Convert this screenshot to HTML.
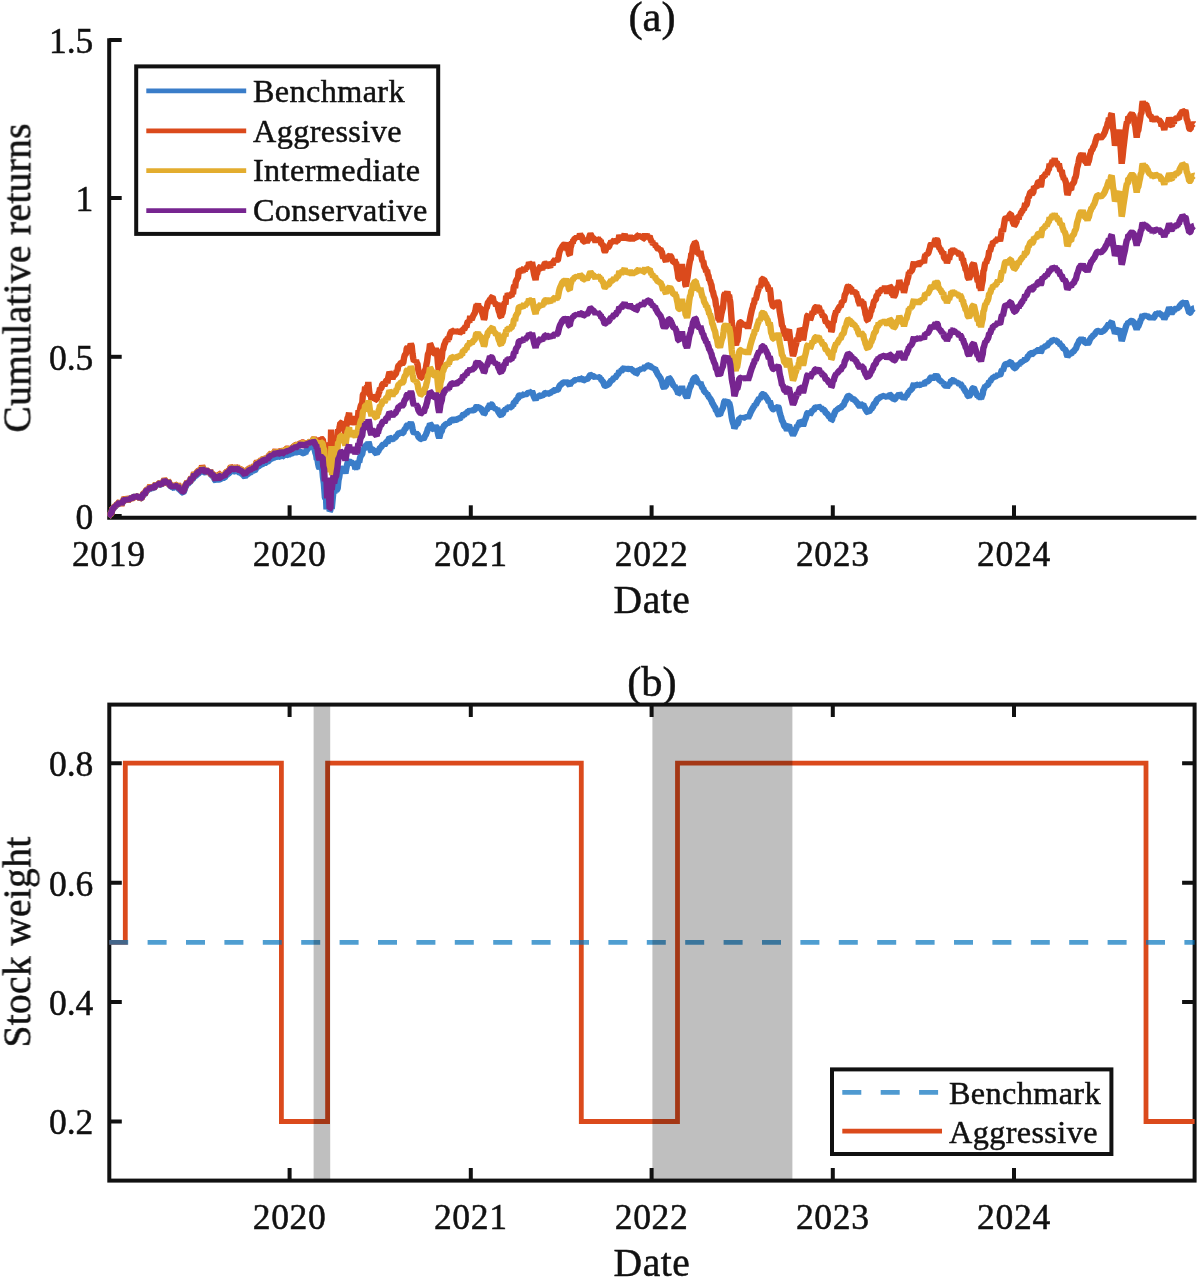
<!DOCTYPE html>
<html><head><meta charset="utf-8"><title>Figure</title>
<style>html,body{margin:0;padding:0;background:#fff}body{width:1200px;height:1280px;overflow:hidden;font-family:"Liberation Serif",serif}svg{display:block}text{filter:url(#gs);stroke:#111;stroke-width:.5px}</style>
</head><body>
<svg width="1200" height="1280" viewBox="0 0 1200 1280">
<defs><filter id="gs" x="-5%" y="-20%" width="110%" height="140%" color-interpolation-filters="sRGB"><feColorMatrix type="saturate" values="0"/></filter></defs>
<rect width="1200" height="1280" fill="#fff"/>
<g font-family="'Liberation Serif', serif" fill="#111">
<g stroke="#111" stroke-width="4.00" fill="none" stroke-linecap="butt">
<path d="M109.20 38.20 V517.80 H1196.40"/>
<path d="M109.20 40.00 h12.5"/>
<path d="M109.20 198.00 h12.5"/>
<path d="M109.20 356.80 h12.5"/>
<path d="M109.20 516.00 h12.5"/>
<path d="M289.60 517.80 v-12.5"/>
<path d="M470.80 517.80 v-12.5"/>
<path d="M651.60 517.80 v-12.5"/>
<path d="M832.80 517.80 v-12.5"/>
<path d="M1014.00 517.80 v-12.5"/>
</g>
<clipPath id="cp"><rect x="107.5" y="20" width="1088.5" height="500"/></clipPath>
<g fill="none" stroke-width="6.40" stroke-linejoin="bevel" stroke-linecap="butt" clip-path="url(#cp)">
<path d="M108.3 516.7 L109.0 515.8 L109.7 513.9 L110.3 514.2 L111.0 513.3 L111.7 512.2 L112.3 509.4 L113.0 508.9 L113.7 508.2 L114.3 507.0 L115.0 507.0 L115.7 505.6 L116.4 505.9 L117.1 504.4 L117.9 504.4 L118.6 503.7 L119.3 503.2 L120.0 503.5 L120.7 503.0 L121.4 504.3 L122.1 502.9 L122.9 502.0 L123.6 500.9 L124.3 499.7 L125.0 501.3 L125.7 498.9 L126.4 499.4 L127.1 500.0 L127.9 500.7 L128.6 499.3 L129.3 499.7 L130.0 498.5 L130.7 498.3 L131.4 498.6 L132.1 497.8 L132.9 497.5 L133.6 496.9 L134.3 496.9 L135.0 495.1 L135.7 496.3 L136.5 496.5 L137.2 496.7 L137.9 496.9 L138.6 497.2 L139.4 497.5 L140.1 498.6 L140.8 498.2 L141.6 497.8 L142.3 496.5 L143.0 495.0 L143.8 494.2 L144.5 494.3 L145.2 493.3 L145.9 491.6 L146.7 490.9 L147.4 490.8 L148.1 489.4 L148.8 490.4 L149.5 489.0 L150.2 487.6 L151.0 488.2 L151.7 488.1 L152.4 488.3 L153.1 487.8 L153.8 488.1 L154.5 487.3 L155.2 486.2 L156.0 485.1 L156.7 485.8 L157.4 484.5 L158.2 485.1 L159.0 484.4 L159.7 484.1 L160.5 484.6 L161.3 484.8 L162.1 483.6 L162.8 483.5 L163.6 482.4 L164.4 481.5 L165.1 481.7 L165.9 482.3 L166.7 482.8 L167.3 483.2 L168.0 482.3 L168.7 483.2 L169.3 484.2 L170.0 485.8 L170.7 486.2 L171.3 486.3 L172.0 486.9 L172.7 488.2 L173.3 487.7 L174.2 488.4 L175.0 486.9 L175.8 487.0 L176.7 487.0 L177.3 487.4 L178.0 487.0 L178.7 488.6 L179.3 489.7 L180.0 489.7 L180.7 490.9 L181.3 491.1 L182.0 491.9 L182.7 492.6 L183.3 492.8 L184.2 490.8 L185.0 488.1 L185.8 486.5 L186.7 484.4 L187.3 483.6 L188.0 483.7 L188.7 483.1 L189.3 482.5 L190.0 482.4 L190.7 480.4 L191.3 479.4 L192.0 479.4 L192.7 479.1 L193.3 478.0 L194.1 475.9 L194.8 476.3 L195.6 475.9 L196.3 475.3 L197.0 474.6 L197.8 473.9 L198.5 473.5 L199.3 472.6 L200.0 473.0 L200.7 471.6 L201.4 471.8 L202.1 470.3 L202.9 471.2 L203.6 471.6 L204.3 472.3 L205.0 472.4 L205.7 472.1 L206.4 471.7 L207.1 472.0 L207.9 473.1 L208.6 472.5 L209.3 472.7 L210.0 471.3 L210.7 473.9 L211.4 475.0 L212.1 475.7 L212.9 476.2 L213.6 477.1 L214.3 478.5 L215.0 480.1 L215.8 480.9 L216.5 479.7 L217.3 480.4 L218.0 479.7 L218.8 477.9 L219.5 478.0 L220.3 479.2 L221.1 479.3 L221.8 477.8 L222.6 478.6 L223.3 477.7 L224.0 477.7 L224.7 477.7 L225.4 476.5 L226.1 475.3 L226.8 475.2 L227.5 474.1 L228.2 474.2 L228.9 473.2 L229.6 472.9 L230.3 471.6 L231.0 471.0 L231.7 470.8 L232.4 471.3 L233.1 470.9 L233.9 470.6 L234.6 471.5 L235.4 471.9 L236.1 471.0 L236.9 470.5 L237.6 471.2 L238.3 471.1 L239.1 472.1 L239.8 473.5 L240.6 473.0 L241.3 473.4 L242.0 473.9 L242.8 474.6 L243.5 475.2 L244.3 476.3 L245.0 476.9 L245.7 475.6 L246.4 475.8 L247.1 474.2 L247.8 474.2 L248.5 473.3 L249.2 473.1 L249.9 472.4 L250.6 472.4 L251.2 472.1 L251.9 470.9 L252.6 471.4 L253.3 470.8 L254.0 470.0 L254.8 470.4 L255.5 469.8 L256.2 467.8 L256.9 467.2 L257.6 467.1 L258.3 467.3 L259.0 465.7 L259.8 465.5 L260.5 465.0 L261.2 464.9 L261.9 465.2 L262.6 463.6 L263.3 462.9 L264.0 462.9 L264.8 463.5 L265.5 462.9 L266.2 461.3 L266.9 461.9 L267.6 462.2 L268.3 461.2 L269.0 460.1 L269.8 459.8 L270.5 459.2 L271.2 458.8 L271.9 459.3 L272.6 458.1 L273.3 458.9 L274.1 457.5 L274.8 457.1 L275.6 456.1 L276.4 456.9 L277.1 456.7 L277.9 456.0 L278.6 456.3 L279.4 456.6 L280.2 456.8 L280.9 455.8 L281.7 454.3 L282.4 456.5 L283.1 456.3 L283.8 456.3 L284.4 453.8 L285.1 456.4 L285.8 455.3 L286.5 454.9 L287.2 454.9 L287.9 455.0 L288.6 454.3 L289.3 454.5 L290.0 454.2 L290.8 454.5 L291.5 453.3 L292.2 453.2 L293.0 453.2 L293.8 451.9 L294.5 452.3 L295.2 452.0 L296.0 452.4 L296.7 452.3 L297.4 451.8 L298.1 453.0 L298.8 451.7 L299.5 451.9 L300.2 451.7 L300.9 451.5 L301.6 452.3 L302.3 452.8 L303.0 453.2 L303.8 453.4 L304.5 452.6 L305.3 453.5 L306.0 451.3 L306.8 450.2 L307.5 448.8 L308.3 448.8 L309.0 447.2 L309.8 446.7 L310.5 446.8 L311.3 445.0 L312.0 445.9 L312.7 445.3 L313.4 444.7 L314.1 447.0 L314.8 450.2 L315.5 453.2 L316.2 455.0 L316.8 459.6 L317.5 459.5 L318.2 464.2 L318.9 467.2 L319.5 468.1 L320.2 465.9 L320.9 468.4 L321.6 468.5 L322.3 469.5 L322.9 476.5 L323.9 483.9 L324.9 497.5 L325.4 498.4 L326.0 496.6 L326.5 509.3 L327.3 501.5 L328.2 501.1 L328.9 502.2 L329.7 511.3 L330.4 510.1 L331.0 494.5 L331.7 508.8 L332.6 500.0 L333.6 489.1 L334.3 493.1 L335.0 489.1 L335.6 489.5 L336.3 490.7 L337.0 489.6 L337.7 488.4 L338.5 480.3 L339.3 476.7 L340.1 471.0 L340.7 468.7 L341.3 468.3 L341.9 468.6 L342.5 469.5 L343.2 469.0 L344.0 468.8 L344.7 471.0 L345.4 473.4 L346.1 469.6 L346.9 465.6 L347.6 462.8 L348.3 461.2 L349.1 459.4 L349.9 464.6 L350.7 463.4 L351.4 462.2 L352.2 462.8 L352.8 463.5 L353.5 462.2 L354.1 464.6 L354.8 465.7 L355.4 469.2 L356.1 467.4 L356.9 468.7 L357.6 465.2 L358.4 460.9 L359.2 462.3 L360.0 458.0 L360.7 456.2 L361.4 455.1 L362.2 454.2 L362.9 450.0 L363.7 449.3 L364.4 449.2 L365.2 445.4 L365.9 445.6 L366.7 444.4 L367.3 445.0 L367.9 444.6 L368.5 441.9 L369.2 444.1 L370.0 448.3 L370.8 450.4 L371.5 452.0 L372.1 449.3 L372.7 449.4 L373.3 450.0 L374.2 449.3 L375.0 452.4 L375.8 453.1 L376.7 454.0 L377.3 451.9 L378.0 452.3 L378.7 450.1 L379.3 449.6 L380.0 447.5 L380.7 447.4 L381.5 446.9 L382.2 445.2 L383.0 444.7 L383.7 444.0 L384.4 445.1 L385.2 444.0 L385.9 442.5 L386.7 441.9 L387.4 443.2 L388.1 440.6 L388.8 439.0 L389.5 437.6 L390.2 438.0 L391.0 440.2 L391.7 439.3 L392.4 440.0 L393.1 438.9 L393.8 436.9 L394.5 437.8 L395.2 437.4 L396.0 436.8 L396.7 435.1 L397.4 435.6 L398.1 433.7 L398.9 433.1 L399.6 433.3 L400.4 432.7 L401.1 432.6 L401.9 432.6 L402.6 433.1 L403.3 433.0 L404.0 430.6 L404.7 429.2 L405.4 428.7 L406.1 428.1 L406.7 425.6 L407.4 425.1 L408.1 425.5 L408.8 425.4 L409.5 424.5 L410.2 423.7 L410.8 422.7 L411.7 424.4 L412.5 428.7 L413.3 431.9 L414.0 433.1 L414.7 432.5 L415.3 433.6 L416.0 432.6 L416.7 433.8 L417.5 434.0 L418.3 436.6 L419.2 437.7 L420.0 438.4 L420.8 439.0 L421.5 439.0 L422.2 437.8 L422.9 438.3 L423.6 438.7 L424.3 437.8 L425.0 435.7 L425.7 435.4 L426.4 433.2 L427.1 431.7 L427.9 428.5 L428.6 427.9 L429.3 426.7 L430.0 423.7 L430.7 424.4 L431.3 425.6 L432.0 426.5 L432.7 429.0 L433.3 429.2 L434.2 427.9 L435.0 427.5 L435.8 426.4 L436.7 427.4 L437.3 429.7 L437.9 433.4 L438.5 436.0 L439.2 437.9 L439.8 436.1 L440.5 432.8 L441.2 431.9 L441.8 431.1 L442.5 427.5 L443.3 427.3 L444.2 425.4 L445.0 425.1 L445.8 424.2 L446.7 423.9 L447.4 424.9 L448.1 422.6 L448.8 423.8 L449.5 422.1 L450.2 421.0 L451.0 420.5 L451.7 419.6 L452.4 419.6 L453.1 420.2 L453.8 420.3 L454.5 419.8 L455.2 419.4 L456.0 419.7 L456.7 419.7 L457.3 419.4 L458.0 418.3 L458.7 418.4 L459.3 418.3 L460.0 418.3 L460.7 417.7 L461.3 416.7 L462.0 417.4 L462.7 415.0 L463.3 414.5 L464.1 414.9 L464.8 414.2 L465.6 413.2 L466.4 414.0 L467.1 412.2 L467.9 411.4 L468.6 411.4 L469.4 411.8 L470.2 409.0 L470.9 410.4 L471.7 410.9 L472.4 410.4 L473.2 410.2 L474.0 410.1 L474.7 409.8 L475.3 408.9 L476.0 407.1 L476.7 406.0 L477.3 406.8 L478.0 405.8 L478.7 407.7 L479.3 407.7 L480.0 408.0 L480.8 408.1 L481.6 409.9 L482.4 410.9 L483.2 412.3 L484.0 413.9 L484.7 413.4 L485.3 411.1 L486.0 409.7 L486.7 409.9 L487.3 409.0 L488.0 407.9 L488.7 406.8 L489.3 405.7 L490.0 403.9 L490.7 404.6 L491.4 404.4 L492.1 404.8 L492.9 406.6 L493.6 408.9 L494.3 408.3 L495.0 408.0 L495.8 409.6 L496.5 409.3 L497.2 408.4 L498.0 411.2 L498.8 412.6 L499.5 413.4 L500.2 415.0 L501.0 415.4 L501.8 414.2 L502.5 414.2 L503.2 412.6 L504.0 410.6 L504.8 410.3 L505.5 411.4 L506.2 407.6 L507.0 409.0 L507.8 406.7 L508.5 407.3 L509.2 406.7 L510.0 407.5 L510.8 407.3 L511.5 407.3 L512.2 405.2 L513.0 406.0 L513.7 403.0 L514.4 402.1 L515.1 403.3 L515.8 400.3 L516.5 399.8 L517.2 399.0 L517.9 399.0 L518.6 395.9 L519.3 395.4 L520.0 395.4 L520.7 395.7 L521.3 394.8 L522.0 395.7 L522.7 396.1 L523.3 394.5 L524.0 394.2 L524.7 395.6 L525.3 394.0 L526.0 394.2 L526.8 393.9 L527.5 393.4 L528.2 393.6 L529.0 391.3 L529.8 392.0 L530.5 392.0 L531.2 393.2 L532.0 391.2 L532.7 393.0 L533.4 395.3 L534.2 397.4 L534.9 398.6 L535.6 400.0 L536.3 397.7 L537.1 397.6 L537.8 396.1 L538.5 396.5 L539.3 395.9 L540.0 395.5 L540.7 395.1 L541.5 396.0 L542.2 396.4 L542.9 394.8 L543.6 395.6 L544.4 393.6 L545.1 393.0 L545.8 393.1 L546.5 392.3 L547.3 393.3 L548.0 393.5 L548.8 393.0 L549.5 393.7 L550.2 394.0 L551.0 391.6 L551.8 391.7 L552.5 392.6 L553.2 391.2 L554.0 390.2 L554.6 390.0 L555.2 389.6 L555.8 390.1 L556.4 390.9 L557.0 390.0 L557.7 390.3 L558.4 388.6 L559.1 386.8 L559.9 385.4 L560.6 384.8 L561.3 384.3 L562.0 383.5 L562.8 383.0 L563.6 382.5 L564.4 382.1 L565.2 382.6 L566.0 381.4 L566.8 382.3 L567.5 384.0 L568.2 382.9 L569.0 384.6 L569.8 385.6 L570.5 383.2 L571.2 382.8 L572.0 381.8 L572.7 382.5 L573.3 380.9 L574.0 380.9 L574.7 380.2 L575.3 380.1 L576.0 380.0 L576.7 380.5 L577.3 378.9 L578.0 380.5 L578.7 379.4 L579.3 379.2 L580.0 378.0 L580.8 378.6 L581.6 378.5 L582.4 379.3 L583.2 380.5 L584.0 380.2 L584.7 379.8 L585.5 379.1 L586.2 379.3 L586.9 379.6 L587.6 378.7 L588.4 377.8 L589.1 376.9 L589.8 375.5 L590.5 374.8 L591.3 375.0 L592.0 376.3 L592.7 376.0 L593.5 376.2 L594.2 376.8 L594.9 377.2 L595.6 378.3 L596.4 376.5 L597.1 377.6 L597.8 376.3 L598.5 377.2 L599.3 377.2 L600.0 378.2 L600.7 378.0 L601.4 380.5 L602.1 380.7 L602.8 381.6 L603.5 382.4 L604.2 385.0 L604.9 385.8 L605.6 385.8 L606.3 385.3 L607.0 385.0 L607.7 384.7 L608.4 384.4 L609.1 383.8 L609.9 382.3 L610.6 381.4 L611.3 380.1 L612.0 380.2 L612.7 379.6 L613.5 378.4 L614.2 377.5 L614.9 378.1 L615.6 377.1 L616.4 376.2 L617.1 374.4 L617.8 374.5 L618.5 373.7 L619.3 370.8 L620.0 371.3 L620.7 370.9 L621.3 371.4 L622.0 370.4 L622.7 369.0 L623.3 368.6 L624.0 368.1 L624.7 366.9 L625.5 369.4 L626.2 368.7 L626.9 369.5 L627.6 369.1 L628.4 368.9 L629.1 369.0 L629.8 367.4 L630.5 369.0 L631.3 369.1 L632.0 369.9 L632.8 370.1 L633.6 371.0 L634.4 372.1 L635.2 371.8 L636.0 374.0 L636.7 373.6 L637.3 371.4 L638.0 370.8 L638.7 369.7 L639.3 369.9 L640.0 370.0 L640.8 368.6 L641.5 369.1 L642.2 367.7 L643.0 369.0 L643.8 368.6 L644.5 367.4 L645.2 365.7 L646.0 367.1 L646.8 366.4 L647.5 365.8 L648.2 365.5 L649.0 365.3 L649.7 364.9 L650.3 366.3 L651.0 366.8 L651.7 367.7 L652.3 367.0 L653.0 368.9 L653.7 368.5 L654.3 368.5 L655.0 368.2 L655.8 370.8 L656.6 371.7 L657.3 373.5 L658.1 374.9 L658.9 375.8 L659.7 377.1 L660.4 378.0 L661.2 380.1 L662.0 381.7 L662.7 385.0 L663.3 387.0 L664.0 387.8 L664.7 386.7 L665.4 386.4 L666.1 385.4 L666.9 383.0 L667.6 381.8 L668.3 379.2 L669.0 377.9 L669.7 378.3 L670.4 379.5 L671.1 380.5 L671.8 382.1 L672.5 383.7 L673.2 385.2 L673.9 386.0 L674.6 385.6 L675.3 387.7 L676.0 388.3 L676.8 390.1 L677.5 391.4 L678.2 393.7 L679.0 393.3 L679.8 391.0 L680.5 390.8 L681.2 389.8 L682.0 386.2 L682.7 390.0 L683.4 390.8 L684.1 391.7 L684.9 391.9 L685.6 395.8 L686.3 396.5 L687.0 398.0 L687.8 395.6 L688.5 392.5 L689.2 389.6 L690.0 387.2 L690.7 386.3 L691.4 383.2 L692.1 383.4 L692.9 380.0 L693.6 378.9 L694.3 378.1 L695.0 377.2 L695.7 377.4 L696.3 378.8 L697.0 380.4 L697.7 381.8 L698.3 382.8 L699.0 382.8 L699.7 384.0 L700.4 382.3 L701.1 384.6 L701.9 386.6 L702.6 388.2 L703.3 388.3 L704.0 390.8 L704.8 391.8 L705.5 392.0 L706.2 394.0 L707.0 393.1 L707.8 395.3 L708.5 395.9 L709.2 398.0 L710.0 398.0 L710.8 399.8 L711.5 400.6 L712.2 403.2 L713.0 403.9 L713.8 405.8 L714.5 406.7 L715.2 407.6 L716.0 410.6 L716.7 410.9 L717.3 412.1 L718.0 414.4 L718.7 415.0 L719.3 414.2 L720.0 414.9 L720.7 412.8 L721.4 410.8 L722.1 409.3 L722.9 407.9 L723.6 404.6 L724.3 401.3 L725.0 400.8 L725.8 402.2 L726.6 401.3 L727.4 400.4 L728.2 403.0 L729.0 402.3 L729.7 404.9 L730.3 407.2 L731.0 412.2 L731.7 417.4 L732.3 420.3 L733.0 422.8 L733.7 424.7 L734.4 428.5 L735.1 427.0 L735.8 425.3 L736.5 424.3 L737.2 424.7 L737.9 423.2 L738.6 421.4 L739.3 418.1 L740.0 418.1 L740.7 417.8 L741.4 417.6 L742.1 418.5 L742.9 417.1 L743.6 418.0 L744.3 417.6 L745.0 417.8 L745.8 416.2 L746.5 416.9 L747.2 416.2 L748.0 418.3 L748.8 416.4 L749.6 415.0 L750.4 412.9 L751.2 411.3 L752.0 409.7 L752.7 408.7 L753.4 407.0 L754.1 406.8 L754.9 404.1 L755.6 404.8 L756.3 403.7 L757.0 402.0 L757.7 400.8 L758.4 399.8 L759.1 398.0 L759.8 398.7 L760.5 397.6 L761.2 397.0 L761.9 394.3 L762.6 394.1 L763.3 394.3 L764.0 394.1 L764.7 395.2 L765.4 396.5 L766.1 396.9 L766.9 398.6 L767.6 399.0 L768.3 401.0 L769.0 402.5 L769.7 401.0 L770.4 403.0 L771.1 406.5 L771.9 407.3 L772.6 409.0 L773.3 409.3 L774.0 409.3 L774.7 408.0 L775.3 408.1 L776.0 407.3 L776.7 408.6 L777.3 407.2 L778.0 406.8 L778.8 407.7 L779.6 412.1 L780.4 414.9 L781.2 417.3 L782.0 420.8 L782.7 421.4 L783.4 423.1 L784.1 425.5 L784.9 426.8 L785.6 427.1 L786.3 428.5 L787.0 430.3 L787.7 428.9 L788.3 425.8 L789.0 425.1 L789.8 427.8 L790.6 429.2 L791.4 431.3 L792.2 433.3 L793.0 435.1 L793.7 433.9 L794.4 432.5 L795.1 430.3 L795.9 429.1 L796.6 427.3 L797.3 425.3 L798.0 426.7 L798.7 423.9 L799.3 423.1 L800.0 421.1 L800.8 421.6 L801.5 423.2 L802.2 423.0 L803.0 425.9 L803.7 424.2 L804.4 421.5 L805.1 419.7 L805.9 417.7 L806.6 415.3 L807.3 413.0 L808.0 412.5 L808.7 413.4 L809.3 412.0 L810.0 414.2 L810.7 413.5 L811.3 412.2 L812.0 411.2 L812.7 409.7 L813.3 411.0 L814.0 409.5 L814.8 407.9 L815.5 407.5 L816.2 407.5 L817.0 406.5 L817.8 407.6 L818.6 406.3 L819.4 406.9 L820.2 408.7 L821.0 406.9 L821.7 408.7 L822.4 409.1 L823.1 410.4 L823.9 410.0 L824.6 410.3 L825.3 412.2 L826.0 413.2 L826.7 413.4 L827.3 413.8 L828.0 415.0 L828.7 416.1 L829.3 416.8 L830.0 417.2 L830.7 417.2 L831.3 420.5 L832.0 420.1 L832.8 416.2 L833.7 415.8 L834.5 413.1 L835.3 411.7 L836.2 409.8 L837.0 410.1 L837.7 409.0 L838.4 408.8 L839.1 408.1 L839.9 407.9 L840.6 408.2 L841.3 407.2 L842.0 406.0 L842.7 405.6 L843.4 405.4 L844.1 403.9 L844.8 401.6 L845.5 400.8 L846.2 399.6 L846.9 397.8 L847.6 396.5 L848.3 395.8 L849.0 395.9 L849.7 395.9 L850.3 397.3 L851.0 396.5 L851.7 399.0 L852.3 398.9 L853.0 399.7 L853.8 399.3 L854.5 399.6 L855.2 400.9 L856.0 401.1 L856.8 402.8 L857.6 403.1 L858.4 405.0 L859.2 405.7 L860.0 406.9 L860.7 405.7 L861.3 404.7 L862.0 404.5 L862.7 404.6 L863.3 404.3 L864.0 406.5 L864.8 407.5 L865.5 409.5 L866.2 410.2 L867.0 412.1 L867.7 412.4 L868.4 411.3 L869.1 411.6 L869.9 410.8 L870.6 409.2 L871.3 409.3 L872.0 407.8 L872.8 407.2 L873.5 405.1 L874.2 403.6 L875.0 403.2 L875.8 402.7 L876.5 400.3 L877.2 399.7 L878.0 399.5 L878.7 397.1 L879.4 398.1 L880.1 397.4 L880.8 397.0 L881.5 397.2 L882.2 395.8 L882.9 396.0 L883.6 396.1 L884.3 396.4 L885.0 394.5 L885.7 396.7 L886.4 396.7 L887.1 397.9 L887.9 396.5 L888.6 395.4 L889.3 395.5 L890.0 394.7 L890.8 395.0 L891.5 397.0 L892.2 398.5 L893.0 398.5 L893.7 399.5 L894.4 399.3 L895.1 398.8 L895.8 397.8 L896.5 396.4 L897.2 396.2 L897.9 397.0 L898.6 395.6 L899.3 393.1 L900.0 394.4 L900.7 395.4 L901.3 397.1 L902.0 397.1 L902.7 396.2 L903.3 397.4 L904.0 399.2 L904.8 397.8 L905.7 395.9 L906.5 395.9 L907.3 394.4 L908.2 393.2 L909.0 391.1 L909.7 391.5 L910.4 389.7 L911.1 389.6 L911.9 388.9 L912.6 387.6 L913.3 385.2 L914.0 383.8 L914.7 385.4 L915.4 385.4 L916.1 385.6 L916.9 384.8 L917.6 384.8 L918.3 386.2 L919.0 384.9 L919.7 385.0 L920.4 384.8 L921.1 384.4 L921.9 385.0 L922.6 384.0 L923.3 384.4 L924.0 385.3 L924.7 382.7 L925.5 381.5 L926.2 382.2 L926.9 381.2 L927.6 381.4 L928.4 381.1 L929.1 380.0 L929.8 379.2 L930.5 377.7 L931.3 377.3 L932.0 377.7 L932.7 377.7 L933.4 378.1 L934.1 377.8 L934.9 376.1 L935.6 375.5 L936.3 376.2 L937.0 376.0 L937.7 376.4 L938.3 378.9 L939.0 379.5 L939.7 380.3 L940.3 380.3 L941.0 381.5 L941.8 381.8 L942.5 383.0 L943.2 381.9 L944.0 384.7 L944.8 385.3 L945.5 385.8 L946.2 385.7 L947.0 387.5 L947.7 386.2 L948.4 384.6 L949.1 385.2 L949.9 383.0 L950.6 382.7 L951.3 380.1 L952.0 380.3 L952.7 380.0 L953.5 380.5 L954.2 380.3 L954.9 381.5 L955.6 382.7 L956.4 381.5 L957.1 382.5 L957.8 382.2 L958.5 383.5 L959.3 384.2 L960.0 383.2 L960.7 384.3 L961.4 384.9 L962.1 387.2 L962.9 386.4 L963.6 388.3 L964.3 389.6 L965.0 390.3 L965.7 392.2 L966.3 392.3 L967.0 393.4 L967.7 395.7 L968.3 396.1 L969.0 396.6 L969.8 395.3 L970.6 393.9 L971.4 392.5 L972.2 388.9 L973.0 388.2 L973.7 387.9 L974.3 388.9 L975.0 390.9 L975.7 392.2 L976.3 393.5 L977.0 395.0 L977.8 396.4 L978.6 395.5 L979.4 398.5 L980.2 397.3 L981.0 398.9 L981.6 396.8 L982.2 395.3 L982.8 393.9 L983.4 389.5 L984.0 389.2 L984.8 387.0 L985.5 385.8 L986.2 386.4 L987.0 385.0 L987.8 384.8 L988.5 383.6 L989.2 381.2 L990.0 381.7 L990.8 380.3 L991.5 378.7 L992.2 379.2 L993.0 377.0 L993.8 377.1 L994.5 376.9 L995.2 377.1 L996.0 376.0 L996.7 376.4 L997.3 375.3 L998.0 374.6 L998.7 375.8 L999.3 374.8 L1000.0 375.5 L1000.7 373.9 L1001.4 371.2 L1002.1 369.5 L1002.9 370.7 L1003.6 368.5 L1004.3 366.5 L1005.0 364.5 L1005.7 364.0 L1006.5 364.1 L1007.2 364.5 L1007.9 364.1 L1008.6 363.2 L1009.4 362.9 L1010.1 362.0 L1010.8 361.8 L1011.5 363.3 L1012.2 364.1 L1012.9 366.4 L1013.6 367.0 L1014.3 368.2 L1015.0 368.2 L1015.7 367.3 L1016.5 366.8 L1017.2 365.2 L1017.9 364.0 L1018.6 365.5 L1019.4 363.4 L1020.1 363.6 L1020.8 362.5 L1021.6 361.9 L1022.3 361.8 L1023.0 360.7 L1023.8 361.1 L1024.5 360.0 L1025.2 358.1 L1025.9 359.2 L1026.7 358.9 L1027.4 357.5 L1028.1 355.7 L1028.9 355.6 L1029.6 354.4 L1030.4 353.3 L1031.1 353.3 L1031.9 354.2 L1032.6 353.9 L1033.3 353.7 L1034.1 350.9 L1034.8 351.9 L1035.6 351.4 L1036.3 352.0 L1037.0 351.2 L1037.8 350.1 L1038.5 349.7 L1039.3 350.0 L1040.0 351.0 L1040.7 352.0 L1041.3 351.4 L1042.0 348.4 L1042.7 347.2 L1043.3 347.6 L1044.0 347.2 L1044.7 347.3 L1045.3 346.3 L1046.0 345.7 L1046.7 346.3 L1047.4 345.4 L1048.1 344.2 L1048.9 344.0 L1049.6 341.3 L1050.4 342.5 L1051.1 341.6 L1051.9 340.8 L1052.6 339.7 L1053.3 340.0 L1054.0 340.5 L1054.7 338.6 L1055.4 341.4 L1056.1 340.6 L1056.8 340.5 L1057.5 341.9 L1058.2 342.5 L1058.9 341.4 L1059.6 343.6 L1060.4 345.1 L1061.1 345.1 L1061.8 345.1 L1062.5 347.3 L1063.2 348.0 L1063.9 349.4 L1064.6 349.0 L1065.4 350.1 L1066.1 351.3 L1066.8 354.8 L1067.5 356.5 L1068.2 355.6 L1069.0 353.9 L1069.7 353.9 L1070.4 354.2 L1071.1 354.5 L1071.9 352.0 L1072.6 351.9 L1073.3 351.6 L1074.1 351.1 L1074.8 349.4 L1075.6 349.0 L1076.3 347.7 L1077.0 345.2 L1077.8 343.9 L1078.5 342.6 L1079.3 340.5 L1080.0 340.0 L1080.7 339.3 L1081.3 338.7 L1082.0 339.5 L1082.7 338.4 L1083.3 339.7 L1084.2 341.9 L1085.0 342.2 L1085.8 342.9 L1086.7 343.1 L1087.5 344.5 L1088.1 343.2 L1088.8 342.5 L1089.4 341.0 L1090.1 339.1 L1090.7 338.6 L1091.4 336.9 L1092.0 336.8 L1092.7 336.2 L1093.3 335.1 L1094.2 334.9 L1095.0 333.8 L1095.8 332.6 L1096.7 331.4 L1097.5 330.9 L1098.2 331.0 L1099.0 331.7 L1099.7 330.6 L1100.4 331.7 L1101.1 332.0 L1101.9 331.7 L1102.6 331.2 L1103.3 331.1 L1104.0 330.3 L1104.8 329.7 L1105.5 328.6 L1106.2 327.7 L1106.9 327.4 L1107.6 325.7 L1108.3 324.8 L1109.0 323.4 L1109.7 325.3 L1110.3 325.0 L1111.0 322.3 L1111.7 321.8 L1112.3 324.1 L1113.0 327.3 L1113.7 328.5 L1114.3 330.6 L1115.0 333.5 L1115.8 332.2 L1116.7 330.7 L1117.5 332.1 L1118.3 330.0 L1119.2 329.0 L1119.8 331.8 L1120.4 333.9 L1121.0 336.8 L1121.7 340.9 L1122.5 338.6 L1123.3 335.5 L1124.2 332.6 L1125.0 330.0 L1125.7 327.4 L1126.3 325.6 L1127.0 323.9 L1127.7 324.7 L1128.3 321.6 L1129.0 321.9 L1129.8 321.8 L1130.5 321.3 L1131.2 320.9 L1131.9 320.8 L1132.6 321.4 L1133.3 321.9 L1134.0 322.5 L1134.7 324.9 L1135.3 325.4 L1136.0 327.5 L1136.7 329.6 L1137.5 327.0 L1138.3 326.6 L1139.2 323.9 L1140.0 322.1 L1140.8 319.4 L1141.5 319.3 L1142.1 316.1 L1142.7 314.6 L1143.3 316.1 L1144.0 316.0 L1144.7 315.3 L1145.3 315.8 L1146.0 315.3 L1146.7 316.2 L1147.5 316.0 L1148.3 316.7 L1149.2 317.3 L1149.9 317.4 L1150.6 317.0 L1151.2 318.0 L1151.9 317.4 L1152.6 319.2 L1153.3 318.0 L1154.2 317.3 L1155.0 315.6 L1155.8 314.2 L1156.7 313.4 L1157.4 314.3 L1158.1 313.4 L1158.8 312.9 L1159.4 313.5 L1160.1 313.5 L1160.8 313.4 L1161.5 315.9 L1162.2 315.8 L1162.9 316.0 L1163.6 317.4 L1164.3 319.1 L1165.0 317.7 L1165.7 315.7 L1166.4 315.8 L1167.1 313.3 L1167.8 312.1 L1168.5 309.6 L1169.2 307.4 L1170.0 309.1 L1170.8 312.2 L1171.7 313.2 L1172.4 312.4 L1173.1 310.5 L1173.8 311.7 L1174.5 309.1 L1175.2 308.9 L1176.0 309.3 L1176.7 308.4 L1177.4 308.7 L1178.1 307.6 L1178.9 307.9 L1179.6 306.0 L1180.3 305.3 L1181.0 304.4 L1181.8 303.9 L1182.5 302.7 L1183.2 302.7 L1183.9 303.9 L1184.6 302.4 L1185.3 301.7 L1186.0 302.8 L1186.7 305.4 L1187.3 306.5 L1187.9 308.7 L1188.5 310.3 L1189.2 312.9 L1189.9 312.8 L1190.6 312.4 L1191.3 309.9 L1192.0 309.9 L1192.7 309.1 L1193.5 308.4 L1194.2 308.3" stroke="#3A7DC9"/>
<path d="M108.3 516.7 L109.0 515.9 L109.7 513.0 L110.3 514.8 L111.0 513.9 L111.7 512.8 L112.3 507.8 L113.0 507.9 L113.7 507.5 L114.3 506.1 L115.0 507.2 L115.7 504.7 L116.4 505.8 L117.1 503.0 L117.9 503.5 L118.6 502.5 L119.3 501.8 L120.0 502.9 L120.7 502.3 L121.4 505.6 L122.1 503.0 L122.9 501.5 L123.6 499.5 L124.3 497.4 L125.0 501.4 L125.7 496.6 L126.4 498.3 L127.1 500.1 L127.9 502.0 L128.6 499.5 L129.3 500.9 L130.0 498.7 L130.7 498.7 L131.4 499.9 L132.1 498.5 L132.9 498.3 L133.6 497.7 L134.3 497.9 L135.0 494.6 L135.7 496.8 L136.5 496.8 L137.2 496.8 L137.9 497.0 L138.6 497.2 L139.4 497.4 L140.1 499.5 L140.8 498.2 L141.6 498.3 L142.3 496.4 L143.0 493.9 L143.8 493.2 L144.5 494.4 L145.2 493.3 L145.9 490.4 L146.7 489.8 L147.4 490.2 L148.1 487.5 L148.8 490.2 L149.5 487.6 L150.2 485.1 L151.0 486.8 L151.7 487.0 L152.4 488.0 L153.1 487.3 L153.8 488.5 L154.5 487.2 L155.2 485.2 L156.0 483.2 L156.7 485.4 L157.4 482.8 L158.2 484.4 L159.0 483.2 L159.7 483.0 L160.5 484.5 L161.3 485.2 L162.1 483.0 L162.8 483.2 L163.6 480.9 L164.4 479.3 L165.1 480.2 L165.9 481.9 L166.7 483.2 L167.3 483.3 L168.0 480.6 L168.7 481.6 L169.3 483.0 L170.0 485.8 L170.7 485.8 L171.3 485.2 L172.0 485.7 L172.7 487.8 L173.3 485.8 L174.2 487.5 L175.0 484.4 L175.8 484.8 L176.7 485.2 L177.3 485.3 L178.0 483.6 L178.7 486.5 L179.3 488.0 L180.0 487.3 L180.7 489.2 L181.3 489.0 L182.0 490.1 L182.7 490.9 L183.3 490.5 L184.2 488.8 L185.0 485.5 L185.8 484.8 L186.7 482.8 L187.3 482.0 L188.0 483.0 L188.7 482.2 L189.3 481.8 L190.0 482.3 L190.7 478.6 L191.3 477.1 L192.0 477.9 L192.7 478.1 L193.3 476.5 L194.1 472.3 L194.8 474.0 L195.6 473.8 L196.3 473.0 L197.0 472.1 L197.8 471.2 L198.5 471.0 L199.3 469.4 L200.0 471.0 L200.7 468.0 L201.4 468.8 L202.1 465.6 L202.9 467.7 L203.6 468.9 L204.3 470.6 L205.0 470.9 L205.7 470.5 L206.4 469.7 L207.1 470.7 L207.9 473.3 L208.6 472.2 L209.3 472.7 L210.0 469.8 L210.7 473.8 L211.4 474.7 L212.1 474.6 L212.9 474.2 L213.6 474.5 L214.3 476.0 L215.0 477.9 L215.8 479.6 L216.5 477.1 L217.3 478.8 L218.0 477.4 L218.8 473.7 L219.5 473.9 L220.3 476.8 L221.1 477.1 L221.8 473.9 L222.6 475.8 L223.3 473.9 L224.0 474.6 L224.7 475.3 L225.4 473.5 L226.1 471.6 L226.8 471.9 L227.5 470.2 L228.2 471.1 L228.9 469.6 L229.6 469.7 L230.3 467.6 L231.0 466.9 L231.7 467.3 L232.4 468.2 L233.1 467.4 L233.9 466.5 L234.6 468.5 L235.4 469.4 L236.1 467.4 L236.9 466.2 L237.6 467.6 L238.3 467.3 L239.1 469.0 L239.8 471.3 L240.6 469.4 L241.3 469.6 L242.0 470.0 L242.8 470.7 L243.5 471.4 L244.3 473.0 L245.0 473.8 L245.7 471.3 L246.4 472.4 L247.1 469.2 L247.8 469.9 L248.5 468.4 L249.2 468.5 L249.9 467.4 L250.6 468.1 L251.2 467.8 L251.9 465.8 L252.6 467.4 L253.3 466.6 L254.0 465.4 L254.8 467.1 L255.5 466.3 L256.2 462.7 L256.9 461.9 L257.6 462.5 L258.3 463.5 L259.0 460.7 L259.8 460.9 L260.5 460.5 L261.2 460.9 L261.9 462.3 L262.6 459.3 L263.3 458.3 L264.0 458.7 L264.8 460.5 L265.5 459.5 L266.2 456.4 L266.9 458.0 L267.6 459.1 L268.3 457.2 L269.0 455.1 L269.8 454.9 L270.5 453.9 L271.2 453.5 L271.9 454.9 L272.6 452.7 L273.3 454.8 L274.1 452.1 L274.8 451.6 L275.6 449.7 L276.4 452.0 L277.1 452.0 L277.9 450.8 L278.6 451.8 L279.4 452.9 L280.2 453.7 L280.9 451.9 L281.7 448.9 L282.4 453.7 L283.1 450.8 L283.8 450.8 L284.4 448.6 L285.1 450.3 L285.8 449.4 L286.5 448.7 L287.2 448.5 L287.9 448.8 L288.6 448.3 L289.3 448.9 L290.0 448.8 L290.8 449.2 L291.5 448.0 L292.2 447.8 L293.0 447.6 L293.8 446.1 L294.5 445.9 L295.2 445.2 L296.0 445.0 L296.7 444.7 L297.4 444.0 L298.1 445.1 L298.8 443.6 L299.5 443.6 L300.2 443.7 L300.9 442.4 L301.6 442.6 L302.3 442.5 L303.0 442.5 L303.8 442.5 L304.5 443.5 L305.2 444.9 L306.0 443.5 L306.7 443.7 L307.5 443.0 L308.2 443.2 L309.0 442.0 L309.7 441.8 L310.5 443.0 L311.2 441.4 L312.0 441.7 L312.7 440.5 L313.4 439.1 L314.1 438.3 L314.8 439.4 L315.5 439.9 L316.2 440.0 L316.8 442.8 L317.5 440.3 L318.2 442.6 L318.9 443.1 L319.5 441.7 L320.2 438.0 L321.1 439.5 L321.9 439.1 L322.8 439.4 L323.6 444.7 L324.2 448.2 L324.8 456.1 L325.4 457.5 L326.0 456.2 L326.7 465.3 L327.3 450.1 L328.0 445.9 L328.9 443.1 L329.9 458.0 L330.5 459.9 L331.1 429.6 L331.7 465.7 L332.3 461.1 L333.1 450.7 L334.0 461.7 L334.8 453.3 L335.4 450.0 L336.1 448.7 L336.7 441.8 L337.4 438.2 L338.2 429.2 L338.9 430.7 L339.6 427.4 L340.3 422.9 L341.1 422.8 L341.8 424.2 L342.5 426.7 L343.2 425.4 L344.0 424.9 L344.7 429.5 L345.4 434.8 L346.1 428.6 L346.9 421.9 L347.6 417.9 L348.3 416.6 L349.1 412.7 L349.9 424.5 L350.7 421.9 L351.4 419.4 L352.2 420.9 L352.9 421.0 L353.7 416.4 L354.4 420.3 L355.1 421.1 L355.8 424.9 L356.5 417.0 L357.2 422.4 L357.9 417.4 L358.6 410.4 L359.3 416.2 L360.0 409.4 L360.7 406.1 L361.4 404.5 L362.2 403.3 L362.9 394.6 L363.6 393.8 L364.4 394.6 L365.1 386.8 L365.8 388.0 L366.5 387.4 L367.1 388.7 L367.7 387.9 L368.3 382.0 L369.2 391.5 L370.0 395.8 L370.8 395.4 L371.5 400.0 L372.1 395.0 L372.7 396.3 L373.3 398.6 L374.2 395.2 L375.0 400.2 L375.8 399.8 L376.7 399.8 L377.3 395.6 L378.0 397.1 L378.7 392.8 L379.3 392.2 L380.0 388.1 L380.7 388.5 L381.5 387.8 L382.2 384.5 L383.0 383.9 L383.7 382.8 L384.4 385.9 L385.2 383.9 L385.9 381.0 L386.7 380.2 L387.4 383.4 L388.1 378.1 L388.8 374.9 L389.5 372.0 L390.2 373.3 L391.0 378.6 L391.7 376.9 L392.4 379.0 L393.1 376.9 L393.8 372.8 L394.5 375.2 L395.2 374.6 L396.0 373.6 L396.7 370.3 L397.4 371.1 L398.1 366.6 L398.9 364.8 L399.6 365.1 L400.4 363.4 L401.1 363.0 L401.9 362.6 L402.6 363.4 L403.3 362.9 L404.0 358.1 L404.7 355.2 L405.4 354.4 L406.1 353.5 L406.7 348.3 L407.4 347.6 L408.1 348.7 L408.8 349.0 L409.5 347.4 L410.2 345.8 L410.8 343.9 L411.7 345.9 L412.5 353.5 L413.3 358.8 L414.0 361.5 L414.7 360.0 L415.3 362.3 L416.0 360.0 L416.7 362.7 L417.5 363.8 L418.3 370.4 L419.2 373.4 L420.0 375.8 L420.8 377.8 L421.5 377.6 L422.2 375.0 L422.9 375.8 L423.6 376.7 L424.3 374.7 L425.0 369.8 L425.7 369.3 L426.4 364.5 L427.1 361.3 L427.9 354.3 L428.6 353.0 L429.3 350.3 L430.0 343.9 L430.7 344.9 L431.3 346.9 L432.0 348.3 L432.7 353.3 L433.3 353.2 L434.2 350.8 L435.0 350.4 L435.8 348.6 L436.7 351.3 L437.3 355.8 L437.9 363.5 L438.5 368.7 L439.2 372.4 L439.8 368.5 L440.5 361.5 L441.2 359.5 L441.8 358.0 L442.5 350.3 L443.3 349.2 L444.2 344.6 L445.0 343.3 L445.8 340.8 L446.7 339.6 L447.4 341.9 L448.1 336.8 L448.8 339.7 L449.5 336.0 L450.2 333.5 L451.0 332.4 L451.7 330.5 L452.4 330.8 L453.1 332.0 L453.8 332.5 L454.5 331.3 L455.2 330.4 L456.0 331.2 L456.7 331.4 L457.3 331.6 L458.0 330.2 L458.7 331.2 L459.3 331.8 L460.0 332.7 L460.7 332.3 L461.3 331.1 L462.0 333.5 L462.7 329.1 L463.3 329.0 L464.1 329.8 L464.8 328.2 L465.6 325.8 L466.4 327.5 L467.1 323.5 L467.9 321.5 L468.6 321.5 L469.4 322.3 L470.2 316.0 L470.9 318.9 L471.7 319.9 L472.4 317.6 L473.2 315.8 L474.0 314.2 L474.7 313.4 L475.3 311.2 L476.0 307.1 L476.7 304.5 L477.3 306.0 L478.0 303.6 L478.7 307.7 L479.3 307.5 L480.0 307.9 L480.8 308.0 L481.6 311.6 L482.4 313.6 L483.2 316.2 L484.0 319.5 L484.7 317.8 L485.3 311.9 L486.0 308.3 L486.7 308.1 L487.3 305.3 L488.0 302.2 L488.8 301.6 L489.5 300.8 L490.2 298.6 L491.0 298.8 L491.8 297.1 L492.5 296.7 L493.2 299.4 L494.0 303.3 L494.7 302.8 L495.4 302.8 L496.1 306.0 L496.8 305.1 L497.5 302.7 L498.2 308.8 L498.9 311.5 L499.6 313.0 L500.3 316.4 L501.0 316.9 L501.8 313.8 L502.5 313.2 L503.2 309.0 L504.0 304.1 L504.8 302.8 L505.5 304.6 L506.2 295.7 L507.0 298.2 L507.8 293.4 L508.5 295.0 L509.2 294.0 L510.0 296.1 L510.8 295.9 L511.5 296.4 L512.2 292.0 L513.0 294.1 L513.7 287.4 L514.4 285.3 L515.1 288.1 L515.8 281.4 L516.5 280.3 L517.2 278.6 L517.9 278.7 L518.6 271.7 L519.3 270.5 L520.0 270.6 L520.7 271.3 L521.3 269.5 L522.0 271.4 L522.7 272.4 L523.3 269.0 L524.0 268.2 L524.7 271.5 L525.3 268.0 L526.0 268.4 L526.8 267.7 L527.5 266.8 L528.2 267.2 L529.0 262.2 L529.8 263.9 L530.5 263.9 L531.2 266.7 L532.0 262.2 L532.7 265.8 L533.4 270.6 L534.2 274.8 L534.9 277.3 L535.6 280.0 L536.3 274.3 L537.1 273.6 L537.8 269.8 L538.5 270.2 L539.3 268.2 L540.0 266.9 L540.7 266.2 L541.5 268.5 L542.2 269.7 L542.9 266.5 L543.6 268.5 L544.4 264.2 L545.1 263.2 L545.8 263.6 L546.5 262.1 L547.3 264.7 L548.0 265.2 L548.8 264.6 L549.5 266.5 L550.2 267.5 L551.0 262.3 L551.8 262.9 L552.5 265.2 L553.2 262.6 L554.0 260.6 L554.6 260.3 L555.2 259.4 L555.8 260.3 L556.4 261.9 L557.0 260.0 L557.7 260.9 L558.4 257.4 L559.1 253.4 L559.9 250.6 L560.6 249.4 L561.3 248.4 L562.0 246.9 L562.8 245.8 L563.6 244.9 L564.4 244.0 L565.2 245.1 L566.0 242.8 L566.8 245.9 L567.5 250.7 L568.2 249.2 L569.0 254.1 L569.8 254.9 L570.5 247.9 L571.2 245.5 L572.0 241.8 L572.7 243.4 L573.3 239.8 L574.0 239.8 L574.7 238.3 L575.3 238.2 L576.0 238.0 L576.7 239.1 L577.3 235.6 L578.0 239.2 L578.7 236.8 L579.3 236.4 L580.0 233.8 L580.8 235.8 L581.6 236.1 L582.4 238.4 L583.2 241.5 L584.0 241.5 L584.7 241.1 L585.5 240.1 L586.2 241.0 L586.9 242.2 L587.6 240.8 L588.4 239.3 L589.1 237.8 L589.8 235.3 L590.5 234.2 L591.3 235.3 L592.0 238.6 L592.7 237.8 L593.5 238.3 L594.2 239.3 L594.9 240.1 L595.6 242.4 L596.4 238.3 L597.1 240.7 L597.8 237.6 L598.5 239.5 L599.3 239.3 L600.0 241.5 L600.7 240.1 L601.4 244.7 L602.1 244.1 L602.8 245.2 L603.5 245.8 L604.2 250.6 L604.9 251.4 L605.6 250.6 L606.3 248.5 L607.0 246.8 L607.7 247.0 L608.4 247.0 L609.1 246.6 L609.9 244.1 L610.6 243.0 L611.3 241.0 L612.0 241.9 L612.7 242.0 L613.5 240.7 L614.2 240.1 L614.9 242.9 L615.6 242.0 L616.4 241.5 L617.1 238.8 L617.8 240.4 L618.5 240.1 L619.3 234.9 L620.0 237.4 L620.7 237.4 L621.3 239.5 L622.0 238.3 L622.7 236.2 L623.3 236.4 L624.0 236.2 L624.7 233.6 L625.5 239.2 L626.2 237.7 L626.9 239.5 L627.6 238.8 L628.4 238.2 L629.1 238.6 L629.8 235.1 L630.5 238.6 L631.3 238.9 L632.0 240.7 L632.7 238.9 L633.5 238.5 L634.2 238.7 L634.9 235.7 L635.6 238.2 L636.4 238.7 L637.1 235.4 L637.8 235.5 L638.5 234.6 L639.3 236.2 L640.0 238.1 L640.8 235.7 L641.5 237.4 L642.2 235.1 L643.0 238.9 L643.8 238.6 L644.5 236.8 L645.2 233.7 L646.0 237.7 L646.8 236.9 L647.5 236.3 L648.2 236.3 L649.0 236.6 L649.7 235.9 L650.3 238.9 L651.0 240.1 L651.7 242.2 L652.3 240.7 L653.0 244.8 L653.7 244.1 L654.3 244.0 L655.0 243.4 L655.8 247.0 L656.6 246.6 L657.3 248.1 L658.1 249.0 L658.9 248.7 L659.7 249.1 L660.4 248.7 L661.2 251.2 L662.0 252.4 L662.7 256.5 L663.3 257.8 L664.0 256.4 L664.7 257.4 L665.3 260.2 L666.0 261.3 L666.8 258.8 L667.5 259.0 L668.2 256.0 L669.0 256.1 L669.7 255.1 L670.4 256.1 L671.1 256.6 L671.8 258.6 L672.5 260.4 L673.2 262.2 L673.9 262.2 L674.6 259.5 L675.3 262.5 L676.0 262.3 L676.8 267.7 L677.6 271.9 L678.4 278.4 L679.2 278.8 L680.0 278.9 L680.7 277.0 L681.3 273.5 L682.0 264.0 L682.7 272.4 L683.3 274.0 L684.0 276.0 L684.7 276.2 L685.3 284.9 L686.0 286.3 L686.8 281.1 L687.6 276.8 L688.4 270.6 L689.2 265.1 L690.0 260.7 L690.7 259.2 L691.4 253.0 L692.1 253.9 L692.9 246.9 L693.6 245.2 L694.3 243.9 L695.0 242.4 L695.7 242.7 L696.3 245.6 L697.0 249.0 L697.7 251.9 L698.3 254.0 L699.0 253.7 L699.7 255.7 L700.4 251.0 L701.1 255.2 L701.9 259.0 L702.6 261.6 L703.3 261.1 L704.0 265.7 L704.8 267.7 L705.5 268.1 L706.2 272.3 L707.0 269.9 L707.8 274.6 L708.5 275.7 L709.2 280.3 L710.0 280.1 L710.8 283.6 L711.5 285.1 L712.2 290.5 L713.0 291.7 L713.8 295.6 L714.5 297.3 L715.2 299.1 L716.0 305.3 L716.7 307.2 L717.3 311.0 L718.0 317.2 L718.7 319.9 L719.3 319.2 L720.0 322.0 L720.7 317.9 L721.4 313.7 L722.1 310.9 L722.9 308.2 L723.6 301.3 L724.3 294.5 L725.0 293.8 L725.8 296.4 L726.6 293.9 L727.4 291.5 L728.2 296.7 L729.0 294.7 L729.7 298.7 L730.3 302.1 L731.0 311.4 L731.7 321.2 L732.3 325.9 L733.0 329.8 L733.8 332.9 L734.5 340.0 L735.2 342.8 L736.0 345.1 L736.7 341.7 L737.3 341.5 L738.0 337.0 L738.7 331.8 L739.3 323.4 L740.0 322.3 L740.7 322.3 L741.4 322.4 L742.1 325.0 L742.9 322.5 L743.6 325.2 L744.3 325.0 L745.0 326.0 L745.8 322.7 L746.5 324.8 L747.2 323.7 L748.0 328.7 L748.8 324.5 L749.6 321.3 L750.4 316.6 L751.2 313.0 L752.0 309.4 L752.7 307.5 L753.4 303.9 L754.1 303.6 L754.9 297.9 L755.6 299.7 L756.3 297.5 L757.0 294.1 L757.7 291.6 L758.4 289.7 L759.1 286.0 L759.8 287.8 L760.5 285.8 L761.2 284.7 L761.9 278.9 L762.6 278.8 L763.3 279.6 L764.0 279.5 L764.7 280.8 L765.4 282.8 L766.1 282.6 L766.9 285.4 L767.6 285.3 L768.3 288.7 L769.0 291.2 L769.7 287.8 L770.4 292.3 L771.1 300.1 L771.9 301.9 L772.6 305.7 L773.3 306.5 L774.0 306.5 L774.7 303.8 L775.3 304.1 L776.0 302.5 L776.7 305.4 L777.3 302.5 L778.0 301.7 L778.8 302.3 L779.6 310.7 L780.4 315.5 L781.2 319.5 L782.0 325.8 L782.7 326.2 L783.4 328.9 L784.1 333.5 L784.9 335.2 L785.6 335.0 L786.3 337.1 L787.0 340.3 L787.7 337.5 L788.3 330.9 L789.0 329.5 L789.8 336.3 L790.6 340.5 L791.4 345.8 L792.2 351.2 L793.0 355.9 L793.7 354.0 L794.4 351.4 L795.1 347.2 L795.9 345.0 L796.6 341.7 L797.3 337.8 L798.0 341.7 L798.7 335.1 L799.3 333.0 L800.0 328.4 L800.8 329.8 L801.5 333.6 L802.2 333.6 L803.0 340.2 L803.7 337.2 L804.4 331.8 L805.1 328.5 L805.9 324.7 L806.6 320.0 L807.3 315.6 L808.0 315.1 L808.7 317.4 L809.3 314.7 L810.0 319.9 L810.7 318.5 L811.3 316.1 L812.0 314.1 L812.7 311.2 L813.3 314.4 L814.0 311.3 L814.8 307.9 L815.5 307.3 L816.2 307.3 L817.0 305.4 L817.8 308.6 L818.6 306.5 L819.4 308.5 L820.2 313.3 L821.0 310.1 L821.7 313.7 L822.4 314.6 L823.1 317.2 L823.9 316.1 L824.6 316.6 L825.3 320.7 L826.0 322.6 L826.7 322.3 L827.3 322.4 L828.0 324.0 L828.7 325.6 L829.3 326.3 L830.0 326.3 L830.7 325.5 L831.3 331.9 L832.0 330.1 L832.8 322.3 L833.7 322.0 L834.5 316.8 L835.3 314.3 L836.2 310.8 L837.0 312.3 L837.7 309.5 L838.4 308.9 L839.1 307.0 L839.9 306.5 L840.6 306.9 L841.3 304.4 L842.0 301.6 L842.7 301.5 L843.4 301.7 L844.1 299.3 L844.8 294.7 L845.5 293.8 L846.2 292.0 L846.9 288.7 L847.6 286.6 L848.3 285.9 L849.0 286.8 L849.7 286.5 L850.3 289.2 L851.0 287.1 L851.7 292.3 L852.3 291.9 L853.0 293.3 L853.8 291.4 L854.5 290.8 L855.2 292.8 L856.0 291.9 L856.8 295.9 L857.6 296.6 L858.4 301.1 L859.2 302.8 L860.0 305.6 L860.7 303.2 L861.3 301.4 L862.0 301.5 L862.7 302.0 L863.3 301.8 L864.0 307.1 L864.8 309.6 L865.5 314.2 L866.2 315.9 L867.0 320.2 L867.7 320.5 L868.4 317.6 L869.1 317.8 L869.9 315.7 L870.6 311.6 L871.3 311.3 L872.0 307.5 L872.8 307.1 L873.5 303.1 L874.2 300.5 L875.0 300.3 L875.8 300.0 L876.5 295.5 L877.2 295.1 L878.0 295.3 L878.7 290.1 L879.4 292.5 L880.1 291.1 L880.8 290.4 L881.5 291.0 L882.2 288.0 L882.9 288.7 L883.6 289.0 L884.3 289.8 L885.0 285.7 L885.7 290.6 L886.4 290.6 L887.1 293.4 L887.9 290.3 L888.6 287.7 L889.3 288.1 L890.0 286.4 L890.8 286.9 L891.5 291.4 L892.2 294.8 L893.0 294.8 L893.7 296.9 L894.4 296.0 L895.1 294.7 L895.8 292.1 L896.5 288.6 L897.2 288.0 L897.9 289.4 L898.6 285.9 L899.3 280.2 L900.0 282.7 L900.7 284.8 L901.3 288.4 L902.0 288.4 L902.7 286.3 L903.3 288.8 L904.0 292.7 L904.8 289.2 L905.7 284.4 L906.5 284.1 L907.3 280.1 L908.2 277.2 L909.0 271.9 L909.7 273.7 L910.4 270.5 L911.1 271.2 L911.9 270.5 L912.6 268.4 L913.3 264.0 L914.0 261.9 L914.7 265.3 L915.4 265.2 L916.1 265.6 L916.9 263.5 L917.6 263.6 L918.3 266.5 L919.0 263.5 L919.7 263.6 L920.4 262.9 L921.1 261.8 L921.9 263.0 L922.6 260.6 L923.3 261.3 L924.0 263.1 L924.7 257.1 L925.5 254.4 L926.2 255.7 L926.9 253.4 L927.6 253.7 L928.4 252.9 L929.1 250.3 L929.8 248.3 L930.5 244.9 L931.3 243.8 L932.0 244.6 L932.7 244.5 L933.4 245.3 L934.1 244.4 L934.9 240.5 L935.6 238.9 L936.3 240.3 L937.0 239.9 L937.7 240.5 L938.3 245.9 L939.0 247.0 L939.7 248.7 L940.3 248.3 L941.0 251.0 L941.8 251.4 L942.5 254.0 L943.2 251.3 L944.0 257.5 L944.8 258.5 L945.5 259.7 L946.2 259.2 L947.0 263.2 L947.7 260.8 L948.4 257.7 L949.1 259.6 L949.9 255.2 L950.6 255.0 L951.3 249.6 L952.0 250.6 L952.7 249.5 L953.5 250.3 L954.2 249.4 L954.9 251.6 L955.6 253.9 L956.4 250.9 L957.1 252.7 L957.8 251.4 L958.5 254.0 L959.3 255.0 L960.0 252.5 L960.7 254.5 L961.4 255.6 L962.1 260.4 L962.9 258.3 L963.6 262.4 L964.3 265.0 L965.0 266.2 L965.7 270.3 L966.3 270.4 L967.0 272.5 L967.7 277.4 L968.3 278.2 L969.0 279.2 L969.8 277.0 L970.6 274.7 L971.4 272.2 L972.2 265.0 L973.0 264.2 L973.7 263.3 L974.3 265.4 L975.0 269.5 L975.7 272.1 L976.3 274.9 L977.0 278.0 L977.8 281.8 L978.6 280.7 L979.4 288.2 L980.2 286.2 L981.0 290.6 L981.6 286.2 L982.2 283.0 L982.8 280.1 L983.4 270.7 L984.0 270.2 L984.8 265.1 L985.5 262.2 L986.2 263.2 L987.0 259.8 L987.8 259.0 L988.5 256.1 L989.2 250.6 L990.0 251.4 L990.8 248.4 L991.5 244.9 L992.2 246.2 L993.0 241.5 L993.8 241.9 L994.5 241.7 L995.2 242.3 L996.0 240.0 L996.7 241.2 L997.3 239.1 L998.0 238.0 L998.7 240.9 L999.3 239.3 L1000.0 241.2 L1000.7 237.8 L1001.4 232.2 L1002.1 228.8 L1002.9 231.8 L1003.6 227.2 L1004.3 223.0 L1005.0 218.9 L1005.7 217.8 L1006.5 218.1 L1007.2 219.2 L1007.9 218.4 L1008.6 216.5 L1009.4 216.0 L1010.1 213.9 L1010.8 213.7 L1011.5 216.4 L1012.2 217.7 L1012.9 222.3 L1013.6 223.3 L1014.3 225.5 L1015.0 224.9 L1015.7 223.0 L1016.5 221.9 L1017.2 218.6 L1017.9 216.1 L1018.6 219.5 L1019.4 214.9 L1020.1 215.4 L1020.8 213.2 L1021.6 211.8 L1022.3 211.4 L1023.0 208.8 L1023.8 209.8 L1024.5 207.2 L1025.2 203.0 L1025.9 205.3 L1026.7 204.6 L1027.4 201.4 L1028.1 197.5 L1028.9 197.2 L1029.6 194.4 L1030.4 192.0 L1031.1 191.9 L1031.9 193.9 L1032.6 193.2 L1033.3 192.7 L1034.1 186.1 L1034.8 188.1 L1035.6 186.6 L1036.3 187.7 L1037.0 185.6 L1037.8 182.9 L1038.5 181.7 L1039.3 181.9 L1040.0 183.8 L1040.7 186.2 L1041.3 185.0 L1042.0 178.3 L1042.7 175.8 L1043.3 176.8 L1044.0 176.0 L1044.7 176.3 L1045.3 174.2 L1046.0 172.9 L1046.7 174.5 L1047.4 172.5 L1048.1 170.0 L1048.9 169.5 L1049.6 163.7 L1050.4 166.3 L1051.1 164.6 L1051.9 162.9 L1052.6 160.5 L1053.3 161.4 L1054.0 162.4 L1054.7 158.0 L1055.4 164.1 L1056.1 162.1 L1056.8 161.9 L1057.5 164.8 L1058.2 166.0 L1058.9 163.4 L1059.6 167.9 L1060.4 171.0 L1061.1 170.8 L1061.8 170.4 L1062.5 175.2 L1063.2 176.6 L1063.9 179.5 L1064.6 178.5 L1065.4 180.9 L1066.1 183.4 L1066.8 191.2 L1067.5 194.9 L1068.2 192.8 L1069.0 188.9 L1069.7 188.9 L1070.4 189.4 L1071.1 189.9 L1071.9 184.3 L1072.6 183.9 L1073.3 183.2 L1074.1 182.0 L1074.8 178.2 L1075.6 177.2 L1076.3 174.1 L1077.0 168.4 L1077.8 165.7 L1078.5 162.6 L1079.3 157.9 L1080.0 156.7 L1080.7 155.2 L1081.3 153.8 L1082.0 155.7 L1082.7 153.2 L1083.3 156.2 L1084.2 160.7 L1085.0 161.0 L1085.8 162.2 L1086.7 162.3 L1087.5 165.1 L1088.1 162.4 L1088.8 161.2 L1089.4 158.3 L1090.1 154.2 L1090.7 153.4 L1091.4 150.0 L1092.0 150.0 L1092.7 149.1 L1093.3 146.9 L1094.2 146.0 L1095.0 143.4 L1095.8 140.3 L1096.7 137.3 L1097.5 135.9 L1098.2 136.1 L1099.0 137.5 L1099.7 135.0 L1100.4 137.4 L1101.1 137.9 L1101.9 137.1 L1102.6 135.9 L1103.3 135.5 L1104.0 133.8 L1104.8 132.3 L1105.5 129.9 L1106.2 127.9 L1106.9 127.1 L1107.6 123.4 L1108.3 121.5 L1109.0 118.0 L1109.7 122.0 L1110.3 121.1 L1111.0 114.8 L1111.7 113.5 L1112.3 119.8 L1113.0 128.1 L1113.7 132.2 L1114.3 138.1 L1115.0 145.6 L1115.8 141.7 L1116.7 137.3 L1117.5 139.1 L1118.3 133.3 L1119.2 129.8 L1119.8 137.9 L1120.4 144.3 L1121.0 152.7 L1121.7 163.7 L1122.5 157.4 L1123.3 149.4 L1124.2 141.8 L1125.0 135.1 L1125.7 129.2 L1126.3 125.4 L1127.0 121.6 L1127.7 123.4 L1128.3 116.5 L1129.0 117.0 L1129.8 116.5 L1130.5 115.1 L1131.2 114.2 L1131.9 113.6 L1132.6 114.9 L1133.3 115.7 L1134.0 118.1 L1134.7 124.3 L1135.3 126.3 L1136.0 132.1 L1136.7 137.7 L1137.5 131.6 L1138.3 130.6 L1139.2 124.4 L1140.0 120.0 L1140.8 113.9 L1141.5 113.1 L1142.1 105.2 L1142.7 101.3 L1143.3 103.9 L1144.0 104.1 L1144.7 102.9 L1145.3 104.3 L1146.0 103.5 L1146.7 106.1 L1147.5 107.8 L1148.3 111.5 L1149.2 115.0 L1149.9 115.5 L1150.6 115.3 L1151.2 117.9 L1151.9 116.9 L1152.6 121.4 L1153.3 119.3 L1154.2 120.1 L1155.0 118.8 L1155.8 118.1 L1156.7 118.7 L1157.4 121.2 L1158.1 119.6 L1158.8 119.0 L1159.4 120.9 L1160.1 121.3 L1160.8 121.7 L1161.5 126.3 L1162.2 125.2 L1162.9 124.7 L1163.6 127.0 L1164.3 129.9 L1165.0 125.9 L1165.7 123.9 L1166.4 126.7 L1167.1 123.7 L1167.8 123.4 L1168.5 120.3 L1169.2 118.0 L1170.0 120.0 L1170.8 125.0 L1171.7 125.5 L1172.4 124.2 L1173.1 120.5 L1173.8 123.6 L1174.5 118.3 L1175.2 118.4 L1176.0 119.7 L1176.7 118.4 L1177.4 119.7 L1178.1 117.8 L1178.9 119.1 L1179.6 115.3 L1180.3 114.5 L1181.0 113.0 L1181.8 112.5 L1182.5 110.5 L1183.2 111.0 L1183.9 114.2 L1184.6 111.3 L1185.3 110.1 L1186.0 113.2 L1186.7 119.3 L1187.3 120.0 L1187.9 122.8 L1188.5 124.5 L1189.2 128.5 L1189.9 129.1 L1190.6 128.9 L1191.3 124.4 L1192.0 125.2 L1192.7 124.3 L1193.5 123.6 L1194.2 124.2" stroke="#DB4A1C"/>
<path d="M108.3 516.7 L109.0 515.8 L109.7 513.3 L110.3 514.6 L111.0 513.7 L111.7 512.6 L112.3 508.4 L113.0 508.3 L113.7 507.7 L114.3 506.4 L115.0 507.1 L115.7 505.0 L116.4 505.8 L117.1 503.5 L117.9 503.8 L118.6 502.9 L119.3 502.3 L120.0 503.1 L120.7 502.5 L121.4 505.1 L122.1 502.9 L122.9 501.6 L123.6 500.0 L124.3 498.2 L125.0 501.3 L125.7 497.3 L126.4 498.7 L127.1 500.0 L127.9 501.4 L128.6 499.4 L129.3 500.4 L130.0 498.5 L130.7 498.5 L131.4 499.4 L132.1 498.1 L132.9 497.9 L133.6 497.3 L134.3 497.5 L135.0 494.7 L135.7 496.5 L136.5 496.6 L137.2 496.6 L137.9 496.9 L138.6 497.1 L139.4 497.3 L140.1 499.1 L140.8 498.1 L141.6 498.0 L142.3 496.3 L143.0 494.2 L143.8 493.4 L144.5 494.2 L145.2 493.2 L145.9 490.7 L146.7 490.1 L147.4 490.3 L148.1 488.0 L148.8 490.1 L149.5 488.0 L150.2 485.8 L151.0 487.2 L151.7 487.2 L152.4 487.9 L153.1 487.3 L153.8 488.2 L154.5 487.1 L155.2 485.4 L156.0 483.7 L156.7 485.4 L157.4 483.2 L158.2 484.5 L159.0 483.4 L159.7 483.2 L160.5 484.3 L161.3 484.8 L162.1 483.0 L162.8 483.1 L163.6 481.2 L164.4 479.9 L165.1 480.5 L165.9 481.8 L166.7 482.8 L167.3 483.0 L168.0 481.0 L168.7 481.9 L169.3 483.2 L170.0 485.6 L170.7 485.7 L171.3 485.3 L172.0 485.9 L172.7 487.7 L173.3 486.2 L174.2 487.5 L175.0 485.0 L175.8 485.3 L176.7 485.5 L177.3 485.7 L178.0 484.5 L178.7 486.9 L179.3 488.3 L180.0 487.8 L180.7 489.5 L181.3 489.4 L182.0 490.4 L182.7 491.2 L183.3 490.9 L184.2 489.1 L185.0 486.1 L185.8 485.1 L186.7 483.0 L187.3 482.2 L188.0 482.9 L188.7 482.1 L189.3 481.7 L190.0 481.9 L190.7 478.8 L191.3 477.5 L192.0 478.0 L192.7 478.0 L193.3 476.6 L194.1 473.1 L194.8 474.4 L195.6 474.1 L196.3 473.4 L197.0 472.5 L197.8 471.7 L198.5 471.4 L199.3 470.1 L200.0 471.2 L200.7 468.8 L201.4 469.4 L202.1 466.8 L202.9 468.5 L203.6 469.4 L204.3 470.7 L205.0 470.9 L205.7 470.6 L206.4 469.9 L207.1 470.6 L207.9 472.7 L208.6 471.7 L209.3 472.2 L210.0 469.8 L210.7 473.3 L211.4 474.2 L212.1 474.4 L212.9 474.3 L213.6 474.8 L214.3 476.3 L215.0 478.1 L215.8 479.4 L216.5 477.4 L217.3 478.7 L218.0 477.6 L218.8 474.5 L219.5 474.7 L220.3 477.0 L221.1 477.2 L221.8 474.6 L222.6 476.1 L223.3 474.6 L224.0 475.0 L224.7 475.5 L225.4 473.8 L226.1 472.2 L226.8 472.4 L227.5 470.9 L228.2 471.5 L228.9 470.2 L229.6 470.1 L230.3 468.3 L231.0 467.6 L231.7 467.8 L232.4 468.5 L233.1 467.9 L233.9 467.1 L234.6 468.7 L235.4 469.5 L236.1 467.9 L236.9 466.9 L237.6 468.0 L238.3 467.8 L239.1 469.2 L239.8 471.2 L240.6 469.8 L241.3 470.1 L242.0 470.5 L242.8 471.2 L243.5 471.9 L244.3 473.3 L245.0 474.0 L245.7 471.9 L246.4 472.7 L247.1 470.0 L247.8 470.5 L248.5 469.2 L249.2 469.2 L249.9 468.2 L250.6 468.6 L251.2 468.4 L251.9 466.6 L252.6 467.8 L253.3 467.1 L254.0 466.0 L254.8 467.2 L255.5 466.5 L256.2 463.5 L256.9 462.8 L257.6 463.1 L258.3 463.8 L259.0 461.4 L259.8 461.4 L260.5 461.0 L261.2 461.2 L261.9 462.2 L262.6 459.7 L263.3 458.8 L264.0 459.1 L264.8 460.4 L265.5 459.6 L266.2 457.0 L266.9 458.2 L267.6 459.0 L268.3 457.4 L269.0 455.7 L269.8 455.4 L270.5 454.5 L271.2 454.2 L271.9 455.2 L272.6 453.4 L273.3 455.0 L274.1 452.8 L274.8 452.3 L275.6 450.7 L276.4 452.5 L277.1 452.4 L277.9 451.3 L278.6 452.0 L279.4 452.9 L280.2 453.5 L280.9 451.9 L281.7 449.4 L282.4 453.3 L283.1 451.0 L283.8 451.0 L284.4 449.2 L285.1 450.6 L285.8 449.8 L286.5 449.3 L287.2 449.2 L287.9 449.4 L288.6 449.0 L289.3 449.4 L290.0 449.4 L290.8 449.6 L291.5 448.5 L292.2 448.3 L293.0 448.0 L293.8 446.7 L294.5 446.4 L295.2 445.7 L296.0 445.5 L296.7 445.2 L297.4 444.7 L298.1 445.4 L298.8 444.2 L299.5 444.2 L300.2 444.2 L300.9 443.2 L301.6 443.3 L302.3 443.2 L303.0 443.1 L303.8 443.1 L304.5 443.8 L305.2 444.9 L306.0 443.7 L306.7 443.8 L307.5 443.2 L308.2 443.3 L309.0 442.2 L309.7 441.9 L310.5 442.8 L311.2 441.4 L312.0 441.6 L312.7 440.6 L313.4 439.4 L314.1 439.2 L314.8 440.5 L315.5 441.3 L316.2 441.8 L316.8 444.5 L317.5 442.6 L318.2 444.5 L318.9 445.0 L319.5 443.9 L320.2 441.0 L321.0 442.7 L321.8 442.8 L322.6 443.5 L323.3 448.1 L324.1 449.4 L324.7 458.0 L325.4 461.5 L326.0 462.8 L326.7 472.2 L327.3 462.2 L328.0 460.9 L328.9 457.5 L329.9 468.1 L330.6 469.9 L331.4 446.0 L332.1 475.1 L332.8 471.5 L333.5 462.6 L334.1 469.8 L334.8 462.1 L335.4 459.4 L336.1 458.3 L336.7 452.9 L337.4 449.5 L338.2 441.8 L338.9 442.5 L339.6 439.3 L340.3 435.8 L341.1 435.8 L341.8 436.9 L342.5 439.0 L343.2 438.0 L344.0 437.7 L344.7 441.4 L345.4 445.7 L346.1 440.6 L346.9 435.1 L347.6 431.7 L348.3 430.5 L349.1 427.3 L349.9 436.7 L350.7 434.6 L351.4 432.5 L352.2 433.6 L352.9 433.9 L353.7 430.5 L354.4 434.0 L355.1 434.9 L355.8 437.7 L356.5 431.2 L357.2 435.2 L357.9 431.1 L358.6 425.3 L359.3 429.7 L360.0 424.0 L360.7 421.2 L361.4 419.7 L362.2 418.6 L362.9 411.5 L363.7 410.7 L364.4 411.2 L365.2 404.8 L365.9 405.6 L366.7 403.9 L367.3 405.3 L367.9 405.0 L368.5 400.5 L369.2 404.7 L370.0 410.6 L370.8 412.7 L371.5 416.2 L372.1 412.0 L372.7 412.9 L373.3 414.6 L374.2 412.4 L375.0 417.0 L375.8 417.3 L376.7 417.8 L377.3 413.8 L378.0 414.3 L378.7 410.3 L379.3 409.1 L380.0 405.2 L380.7 405.3 L381.5 404.6 L382.2 401.9 L383.0 401.2 L383.7 400.2 L384.4 402.5 L385.2 400.8 L385.9 398.3 L386.7 397.5 L387.4 400.0 L388.1 395.7 L388.8 393.0 L389.5 390.6 L390.2 391.6 L391.0 395.8 L391.7 394.4 L392.4 396.0 L393.1 394.2 L393.8 390.8 L394.5 392.7 L395.2 392.2 L396.0 391.3 L396.7 388.6 L397.4 389.2 L398.1 385.5 L398.9 384.1 L399.6 384.3 L400.4 382.9 L401.1 382.5 L401.9 382.1 L402.6 382.7 L403.3 382.3 L404.0 378.4 L404.7 376.1 L405.4 375.4 L406.1 374.6 L406.7 370.5 L407.4 369.9 L408.1 370.8 L408.8 371.0 L409.5 369.6 L410.2 368.4 L410.8 366.8 L411.7 368.4 L412.5 374.5 L413.3 378.7 L414.0 381.0 L414.7 380.0 L415.3 381.9 L416.0 380.2 L416.7 382.5 L417.5 383.4 L418.3 388.8 L419.2 391.2 L420.0 393.2 L420.8 394.9 L421.5 394.6 L422.2 392.4 L422.9 393.0 L423.6 393.6 L424.3 391.8 L425.0 387.9 L425.7 387.5 L426.4 383.8 L427.1 381.3 L427.9 375.8 L428.6 374.9 L429.3 372.8 L430.0 367.8 L430.7 368.6 L431.3 370.2 L432.0 371.3 L432.7 375.3 L433.3 375.2 L434.2 373.2 L435.0 372.8 L435.8 371.3 L436.7 373.4 L437.3 377.6 L437.9 384.3 L438.5 389.0 L439.2 392.6 L439.8 388.8 L440.5 382.5 L441.2 380.3 L441.8 378.4 L442.5 371.6 L443.3 371.0 L444.2 367.5 L445.0 366.8 L445.8 365.0 L446.7 364.4 L447.4 366.2 L448.1 362.1 L448.8 364.3 L449.5 361.4 L450.2 359.4 L451.0 358.5 L451.7 356.9 L452.4 357.1 L453.1 358.1 L453.8 358.4 L454.5 357.4 L455.2 356.7 L456.0 357.3 L456.7 357.4 L457.3 357.2 L458.0 355.5 L458.7 355.9 L459.3 355.9 L460.0 356.2 L460.7 355.4 L461.3 354.0 L462.0 355.4 L462.7 351.4 L463.3 350.9 L464.1 351.5 L464.8 350.2 L465.6 348.3 L466.4 349.7 L467.1 346.4 L467.9 344.9 L468.6 344.8 L469.4 345.5 L470.2 340.4 L470.9 342.8 L471.7 343.6 L472.4 342.1 L473.2 341.1 L474.0 340.1 L474.7 339.6 L475.3 338.0 L476.0 334.7 L476.7 332.8 L477.3 334.0 L478.0 332.2 L478.7 335.6 L479.3 335.5 L480.0 335.9 L480.8 336.2 L481.6 339.2 L482.4 340.9 L483.2 343.2 L484.0 346.0 L484.7 344.6 L485.3 340.0 L486.0 337.0 L486.7 336.9 L487.3 334.7 L488.0 332.1 L488.8 331.6 L489.5 331.0 L490.2 329.2 L491.0 329.3 L491.8 327.9 L492.5 327.5 L493.2 329.6 L494.0 332.7 L494.7 332.4 L495.4 332.5 L496.1 335.2 L496.8 334.6 L497.5 332.8 L498.2 337.8 L498.9 340.1 L499.6 341.3 L500.3 344.2 L501.0 344.7 L501.8 342.5 L502.5 342.2 L503.2 339.2 L504.0 335.5 L504.8 334.7 L505.5 336.4 L506.2 329.5 L507.0 331.8 L507.8 327.6 L508.5 328.6 L509.2 327.5 L510.0 328.8 L510.8 328.4 L511.5 328.5 L512.2 324.7 L513.0 326.1 L513.7 320.6 L514.4 319.0 L515.1 321.1 L515.8 315.8 L516.5 314.8 L517.2 313.5 L517.9 313.5 L518.6 307.9 L519.3 306.9 L520.0 306.9 L520.7 307.4 L521.3 305.9 L522.0 307.3 L522.7 308.0 L523.3 305.1 L524.0 304.4 L524.7 307.0 L525.3 304.1 L526.0 304.3 L526.8 303.7 L527.5 302.8 L528.2 303.1 L529.0 298.9 L529.8 300.2 L530.5 300.1 L531.2 302.3 L532.0 298.6 L532.7 301.7 L533.4 305.8 L534.2 309.4 L534.9 311.6 L535.6 314.0 L536.3 309.7 L537.1 309.4 L537.8 306.6 L538.5 307.2 L539.3 305.9 L540.0 305.2 L540.7 304.3 L541.5 305.8 L542.2 306.4 L542.9 303.6 L543.6 304.9 L544.4 301.2 L545.1 300.1 L545.8 300.2 L546.5 298.7 L547.3 300.4 L548.0 300.6 L548.8 300.2 L549.5 301.9 L550.2 302.9 L551.0 298.9 L551.8 299.5 L552.5 301.5 L553.2 299.5 L554.0 298.1 L554.6 297.9 L555.2 297.2 L555.8 298.1 L556.4 299.5 L557.0 298.0 L557.7 298.1 L558.4 294.6 L559.1 290.8 L559.9 288.0 L560.6 286.4 L561.3 285.0 L562.0 283.1 L562.8 282.1 L563.6 281.2 L564.4 280.3 L565.2 281.1 L566.0 279.0 L566.8 281.8 L567.5 285.9 L568.2 285.0 L569.0 289.3 L569.8 289.9 L570.5 284.3 L571.2 282.4 L572.0 279.4 L572.7 280.8 L573.3 278.1 L574.0 278.2 L574.7 277.1 L575.3 277.1 L576.0 277.0 L576.7 278.0 L577.3 275.2 L578.0 278.3 L578.7 276.4 L579.3 276.2 L580.0 274.2 L580.8 275.6 L581.6 275.7 L582.4 277.3 L583.2 279.6 L584.0 279.4 L584.7 278.9 L585.5 278.0 L586.2 278.6 L586.9 279.4 L587.6 278.1 L588.4 276.7 L589.1 275.5 L589.8 273.3 L590.5 272.2 L591.3 273.0 L592.0 275.5 L592.7 274.9 L593.5 275.3 L594.2 276.2 L594.9 276.9 L595.6 278.8 L596.4 275.5 L597.1 277.5 L597.8 275.1 L598.5 276.7 L599.3 276.5 L600.0 278.4 L600.7 277.4 L601.4 281.3 L602.1 280.9 L602.8 282.0 L603.5 282.7 L604.2 286.7 L604.9 287.5 L605.6 286.9 L606.3 285.4 L607.0 284.2 L607.7 284.4 L608.4 284.6 L609.1 284.2 L609.9 282.3 L610.6 281.4 L611.3 279.9 L612.0 280.7 L612.7 280.4 L613.5 279.0 L614.2 278.1 L614.9 279.9 L615.6 278.8 L616.4 278.0 L617.1 275.4 L617.8 276.3 L618.5 275.7 L619.3 271.1 L620.0 272.7 L620.7 272.5 L621.3 273.9 L622.0 272.7 L622.7 270.7 L623.3 270.6 L624.0 270.1 L624.7 268.2 L625.5 272.7 L626.2 271.6 L626.9 273.2 L627.6 272.7 L628.4 272.3 L629.1 272.7 L629.8 270.0 L630.5 272.9 L631.3 273.3 L632.0 274.8 L632.7 273.3 L633.5 272.9 L634.2 273.0 L634.9 270.5 L635.6 272.5 L636.4 272.8 L637.1 270.2 L637.8 270.2 L638.5 269.4 L639.3 270.6 L640.0 272.1 L640.8 270.0 L641.5 271.3 L642.2 269.3 L643.0 272.2 L643.8 271.9 L644.5 270.3 L645.2 267.7 L646.0 270.8 L646.8 270.0 L647.5 269.4 L648.2 269.3 L649.0 269.4 L649.7 269.0 L650.3 271.6 L651.0 272.8 L651.7 274.6 L652.3 273.6 L653.0 277.0 L653.7 276.5 L654.3 276.6 L655.0 276.3 L655.8 279.4 L656.6 279.3 L657.3 280.8 L658.1 281.7 L658.9 281.7 L659.7 282.2 L660.4 282.1 L661.2 284.3 L662.0 285.5 L662.7 288.9 L663.3 290.0 L664.0 289.0 L664.7 289.9 L665.3 292.3 L666.0 293.2 L666.8 290.9 L667.5 290.7 L668.2 288.0 L669.0 287.7 L669.7 287.1 L670.4 288.2 L671.1 288.8 L671.8 290.6 L672.5 292.4 L673.2 294.0 L673.9 294.2 L674.6 292.3 L675.3 295.0 L676.0 295.1 L676.8 299.5 L677.6 303.1 L678.4 308.4 L679.2 308.9 L680.0 309.1 L680.7 308.1 L681.3 305.8 L682.0 298.8 L682.7 305.3 L683.4 306.4 L684.1 307.9 L684.9 307.9 L685.6 314.6 L686.3 315.5 L687.0 318.0 L687.8 313.1 L688.5 306.8 L689.2 301.0 L690.0 296.1 L690.7 295.0 L691.4 289.9 L692.1 290.6 L692.9 285.0 L693.6 283.6 L694.3 282.6 L695.0 281.3 L695.7 281.4 L696.3 283.6 L697.0 286.1 L697.7 288.2 L698.3 289.8 L699.0 289.4 L699.7 291.3 L700.4 287.9 L701.1 291.6 L701.9 294.9 L702.6 297.4 L703.3 297.3 L704.0 301.4 L704.8 303.1 L705.5 303.6 L706.2 307.1 L707.0 305.3 L707.8 309.3 L708.5 310.2 L709.2 314.1 L710.0 314.1 L710.8 317.2 L711.5 318.8 L712.2 323.5 L713.0 324.8 L713.8 328.2 L714.5 330.0 L715.2 331.7 L716.0 337.1 L716.7 338.1 L717.3 340.7 L718.0 345.2 L718.7 346.8 L719.3 345.8 L720.0 347.6 L720.7 344.4 L721.4 341.1 L722.1 338.9 L722.9 336.8 L723.6 331.4 L724.3 325.9 L725.0 325.5 L725.8 327.6 L726.6 325.7 L727.4 323.9 L728.2 328.0 L729.0 326.5 L729.7 330.2 L730.3 333.4 L731.0 341.3 L731.7 349.6 L732.3 353.8 L733.0 357.4 L733.6 360.2 L734.3 366.2 L735.0 368.7 L735.6 370.9 L736.3 367.8 L737.1 367.2 L737.8 363.2 L738.5 358.6 L739.3 351.5 L740.0 350.3 L740.7 350.1 L741.4 350.0 L742.1 352.0 L742.9 349.9 L743.6 351.8 L744.3 351.6 L745.0 352.2 L745.8 349.6 L746.5 351.3 L747.2 350.5 L748.0 354.6 L748.8 351.3 L749.6 348.8 L750.4 345.1 L751.2 342.3 L752.0 339.5 L752.7 337.8 L753.4 334.8 L754.1 334.3 L754.9 329.6 L755.6 330.9 L756.3 329.0 L757.0 326.1 L757.7 323.9 L758.4 322.2 L759.1 319.2 L759.8 320.5 L760.5 318.7 L761.2 317.8 L761.9 313.0 L762.6 312.7 L763.3 313.3 L764.0 313.0 L764.7 314.4 L765.4 316.4 L766.1 316.6 L766.9 319.2 L767.6 319.5 L768.3 322.6 L769.0 325.0 L769.7 322.5 L770.4 326.3 L771.1 332.7 L771.9 334.4 L772.6 337.7 L773.3 338.6 L774.0 338.8 L774.7 336.5 L775.3 336.7 L776.0 335.3 L776.7 337.5 L777.3 335.1 L778.0 334.3 L778.8 335.2 L779.6 342.3 L780.4 346.5 L781.2 350.0 L782.0 355.5 L782.7 355.7 L783.4 357.9 L784.1 361.6 L784.9 363.0 L785.6 362.8 L786.3 364.5 L787.0 367.0 L787.7 364.9 L788.3 359.8 L789.0 358.8 L789.8 364.3 L790.6 367.7 L791.4 372.0 L792.2 376.5 L793.0 380.3 L793.7 378.8 L794.4 376.8 L795.1 373.5 L795.9 371.8 L796.6 369.3 L797.3 366.2 L798.0 369.3 L798.7 363.8 L799.3 361.9 L800.0 357.9 L800.8 358.5 L801.5 361.1 L802.2 360.5 L803.0 365.4 L803.7 362.9 L804.4 358.5 L805.1 355.8 L805.9 352.8 L806.6 348.9 L807.3 345.4 L808.0 344.9 L808.7 346.6 L809.3 344.3 L810.0 348.3 L810.7 347.1 L811.3 345.0 L812.0 343.3 L812.7 340.8 L813.3 343.3 L814.0 340.6 L814.8 337.8 L815.5 337.3 L816.2 337.3 L817.0 335.7 L817.8 338.3 L818.6 336.7 L819.4 338.3 L820.2 342.2 L821.0 339.7 L821.7 342.6 L822.4 343.4 L823.1 345.6 L823.9 344.7 L824.6 345.2 L825.3 348.5 L826.0 350.1 L826.7 350.0 L827.3 350.3 L828.0 351.8 L828.7 353.4 L829.3 354.2 L830.0 354.4 L830.7 354.0 L831.3 359.3 L832.0 358.1 L832.8 351.9 L833.7 351.7 L834.5 347.7 L835.3 345.7 L836.2 343.0 L837.0 344.2 L837.7 341.9 L838.4 341.2 L839.1 339.5 L839.9 338.9 L840.6 339.1 L841.3 336.9 L842.0 334.5 L842.7 334.1 L843.4 334.0 L844.1 331.8 L844.8 327.9 L845.5 326.8 L846.2 325.1 L846.9 322.2 L847.6 320.2 L848.3 319.4 L849.0 319.8 L849.7 319.6 L850.3 321.9 L851.0 320.3 L851.7 324.5 L852.3 324.2 L853.0 325.5 L853.8 324.4 L854.5 324.5 L855.2 326.5 L856.0 326.3 L856.8 329.3 L857.6 329.6 L858.4 333.0 L859.2 334.0 L860.0 336.0 L860.7 334.4 L861.3 333.2 L862.0 333.6 L862.7 334.3 L863.3 334.4 L864.0 338.9 L864.8 340.6 L865.5 343.9 L866.2 345.0 L867.0 348.2 L867.7 348.7 L868.4 346.5 L869.1 346.9 L869.9 345.4 L870.6 342.5 L871.3 342.4 L872.0 339.6 L872.8 338.9 L873.5 335.3 L874.2 332.8 L875.0 332.3 L875.8 331.6 L876.5 327.6 L877.2 326.9 L878.0 326.7 L878.7 322.5 L879.4 324.5 L880.1 323.4 L880.8 322.8 L881.5 323.4 L882.2 321.0 L882.9 321.6 L883.6 321.9 L884.3 322.6 L885.0 319.3 L885.7 323.3 L886.4 323.1 L887.1 325.3 L887.9 322.8 L888.6 320.7 L889.3 321.0 L890.0 319.5 L890.8 319.9 L891.5 323.4 L892.2 326.1 L893.0 326.1 L893.7 327.8 L894.4 327.3 L895.1 326.4 L895.8 324.5 L896.5 321.8 L897.2 321.5 L897.9 322.8 L898.6 320.2 L899.3 315.8 L900.0 317.9 L900.7 319.7 L901.3 322.6 L902.0 322.6 L902.7 320.9 L903.3 323.0 L904.0 326.2 L904.8 323.1 L905.7 319.2 L906.5 318.7 L907.3 315.3 L908.2 312.7 L909.0 308.3 L909.7 309.6 L910.4 307.0 L911.1 307.5 L911.9 306.7 L912.6 305.0 L913.3 301.3 L914.0 299.5 L914.7 302.4 L915.4 302.5 L916.1 303.0 L916.9 301.5 L917.6 301.8 L918.3 304.2 L919.0 302.0 L919.7 301.9 L920.4 301.1 L921.1 300.0 L921.9 300.7 L922.6 298.6 L923.3 298.9 L924.0 300.1 L924.7 295.5 L925.5 293.5 L926.2 294.7 L926.9 293.1 L927.6 293.5 L928.4 293.0 L929.1 291.1 L929.8 289.7 L930.5 287.2 L931.3 286.4 L932.0 287.3 L932.7 287.0 L933.4 287.5 L934.1 286.6 L934.9 283.3 L935.6 281.9 L936.3 282.8 L937.0 282.3 L937.7 282.8 L938.3 287.1 L939.0 288.0 L939.7 289.3 L940.3 289.1 L941.0 291.2 L941.8 291.7 L942.5 294.1 L943.2 292.2 L944.0 297.4 L944.8 298.5 L945.5 299.6 L946.2 299.5 L947.0 302.9 L947.7 301.0 L948.4 298.5 L949.1 299.9 L949.9 296.4 L950.6 296.1 L951.3 291.8 L952.0 292.5 L952.7 291.6 L953.5 292.3 L954.2 291.6 L954.9 293.4 L955.6 295.3 L956.4 292.9 L957.1 294.4 L957.8 293.4 L958.5 295.6 L959.3 296.4 L960.0 294.4 L960.7 296.2 L961.4 297.4 L962.1 301.4 L962.9 300.0 L963.6 303.5 L964.3 305.7 L965.0 307.0 L965.7 310.3 L966.3 310.3 L967.0 312.0 L967.7 315.9 L968.3 316.5 L969.0 317.3 L969.8 315.6 L970.6 313.8 L971.4 311.8 L972.2 306.1 L973.0 305.6 L973.7 305.1 L974.3 307.0 L975.0 310.5 L975.7 312.9 L976.3 315.3 L977.0 318.0 L977.8 320.8 L978.6 319.8 L979.4 325.6 L980.2 323.8 L981.0 327.1 L981.6 323.5 L982.2 320.9 L982.8 318.6 L983.4 311.0 L984.0 310.6 L984.8 306.2 L985.5 303.7 L986.2 304.2 L987.0 301.2 L987.8 300.4 L988.5 297.8 L989.2 293.1 L990.0 293.5 L990.8 291.1 L991.5 288.2 L992.2 289.2 L993.0 285.4 L993.8 285.7 L994.5 285.4 L995.2 285.9 L996.0 284.0 L996.7 284.3 L997.3 281.9 L998.0 280.4 L998.7 282.1 L999.3 280.1 L1000.0 280.9 L1000.7 278.1 L1001.4 273.6 L1002.1 270.7 L1002.9 273.0 L1003.6 269.3 L1004.3 265.8 L1005.0 262.5 L1005.7 261.7 L1006.5 262.1 L1007.2 263.1 L1007.9 262.6 L1008.6 261.2 L1009.4 261.0 L1010.1 259.5 L1010.8 259.4 L1011.5 261.7 L1012.2 262.8 L1012.9 266.5 L1013.6 267.4 L1014.3 269.2 L1015.0 268.8 L1015.7 267.2 L1016.5 266.4 L1017.2 263.7 L1017.9 261.7 L1018.6 264.5 L1019.4 260.7 L1020.1 261.1 L1020.8 259.4 L1021.6 258.3 L1022.3 258.0 L1023.0 256.0 L1023.8 256.8 L1024.5 254.7 L1025.2 251.4 L1025.9 253.2 L1026.7 252.6 L1027.4 250.0 L1028.1 246.7 L1028.9 246.4 L1029.6 244.1 L1030.4 242.1 L1031.1 241.9 L1031.9 243.3 L1032.6 242.7 L1033.3 242.1 L1034.1 236.9 L1034.8 238.5 L1035.6 237.3 L1036.3 238.2 L1037.0 236.5 L1037.8 234.3 L1038.5 233.4 L1039.3 233.6 L1040.0 235.1 L1040.7 236.8 L1041.3 235.7 L1042.0 230.2 L1042.7 227.9 L1043.3 228.6 L1044.0 227.8 L1044.7 227.9 L1045.3 226.0 L1046.0 224.8 L1046.7 225.9 L1047.4 224.3 L1048.1 222.3 L1048.9 221.9 L1049.6 217.3 L1050.4 219.4 L1051.1 218.0 L1051.9 216.7 L1052.6 214.7 L1053.3 215.4 L1054.0 216.4 L1054.7 213.1 L1055.4 218.2 L1056.1 216.8 L1056.8 216.8 L1057.5 219.4 L1058.2 220.3 L1058.9 218.1 L1059.6 221.8 L1060.4 224.2 L1061.1 224.0 L1061.8 223.7 L1062.5 227.5 L1063.2 229.0 L1063.9 231.8 L1064.6 231.4 L1065.4 233.8 L1066.1 236.2 L1066.8 242.9 L1067.5 246.2 L1068.2 244.3 L1069.0 241.0 L1069.7 240.7 L1070.4 240.8 L1071.1 241.0 L1071.9 236.3 L1072.6 235.7 L1073.3 234.9 L1074.1 233.9 L1074.8 230.8 L1075.6 230.0 L1076.3 227.5 L1077.0 222.9 L1077.8 220.6 L1078.5 218.1 L1079.3 214.4 L1080.0 213.4 L1080.7 212.1 L1081.3 210.9 L1082.0 212.4 L1082.7 210.3 L1083.3 212.6 L1084.2 216.4 L1085.0 216.7 L1085.8 217.8 L1086.7 218.0 L1087.5 220.4 L1088.1 218.2 L1088.8 217.1 L1089.4 214.7 L1090.1 211.4 L1090.7 210.7 L1091.4 207.9 L1092.0 207.8 L1092.7 207.0 L1093.3 205.2 L1094.2 204.2 L1095.0 201.9 L1095.8 199.1 L1096.7 196.4 L1097.5 195.1 L1098.2 195.2 L1099.0 196.3 L1099.7 194.3 L1100.4 196.2 L1101.1 196.5 L1101.9 195.9 L1102.6 194.9 L1103.3 194.6 L1104.0 193.2 L1104.8 191.9 L1105.5 189.9 L1106.2 188.2 L1106.9 187.5 L1107.6 184.5 L1108.3 182.8 L1109.0 179.9 L1109.7 182.8 L1110.3 181.9 L1111.0 176.7 L1111.7 175.5 L1112.3 180.6 L1113.0 187.3 L1113.7 190.6 L1114.3 195.4 L1115.0 201.5 L1115.8 198.8 L1116.7 195.7 L1117.5 197.7 L1118.3 193.5 L1119.2 191.2 L1119.8 197.2 L1120.4 202.0 L1121.0 208.3 L1121.7 216.6 L1122.5 211.9 L1123.3 205.8 L1124.2 200.1 L1125.0 195.1 L1125.7 190.0 L1126.3 186.5 L1127.0 183.1 L1127.7 184.2 L1128.3 178.2 L1129.0 178.3 L1129.8 177.5 L1130.5 176.1 L1131.2 175.0 L1131.9 174.2 L1132.6 174.9 L1133.3 175.2 L1134.0 177.1 L1134.7 182.0 L1135.3 183.5 L1136.0 188.1 L1136.7 192.5 L1137.5 187.7 L1138.3 186.9 L1139.2 182.1 L1140.0 178.6 L1140.8 173.8 L1141.5 173.0 L1142.1 166.7 L1142.7 163.5 L1143.3 165.5 L1144.0 166.0 L1144.7 165.3 L1145.3 166.8 L1146.0 166.5 L1146.7 168.9 L1147.5 169.4 L1148.3 171.6 L1149.2 173.5 L1149.9 173.8 L1150.6 173.4 L1151.2 175.4 L1151.9 174.5 L1152.6 177.9 L1153.3 176.1 L1154.2 176.5 L1155.0 175.4 L1155.8 174.6 L1156.7 175.0 L1157.4 176.9 L1158.1 175.5 L1158.8 175.0 L1159.4 176.5 L1160.1 176.8 L1160.8 177.1 L1161.5 180.9 L1162.2 180.2 L1162.9 180.0 L1163.6 182.1 L1164.3 184.6 L1165.0 181.6 L1165.7 179.7 L1166.4 181.6 L1167.1 178.8 L1167.8 178.3 L1168.5 175.6 L1169.2 173.4 L1170.0 174.9 L1170.8 178.7 L1171.7 178.9 L1172.4 177.9 L1173.1 175.1 L1173.8 177.6 L1174.5 173.4 L1175.2 173.6 L1176.0 174.7 L1176.7 173.7 L1177.4 174.3 L1178.1 172.3 L1178.9 172.9 L1179.6 169.4 L1180.3 168.3 L1181.0 166.7 L1181.8 165.8 L1182.5 163.8 L1183.2 164.4 L1183.9 167.1 L1184.6 165.1 L1185.3 164.3 L1186.0 167.0 L1186.7 172.1 L1187.3 173.0 L1187.9 175.6 L1188.5 177.3 L1189.2 180.8 L1189.9 181.1 L1190.6 180.7 L1191.3 176.9 L1192.0 177.3 L1192.7 176.3 L1193.5 175.6 L1194.2 175.8" stroke="#E3AD2F"/>
<path d="M108.3 516.7 L109.0 515.8 L109.7 513.6 L110.3 514.4 L111.0 513.5 L111.7 512.4 L112.3 508.8 L113.0 508.6 L113.7 507.9 L114.3 506.7 L115.0 507.1 L115.7 505.3 L116.4 505.9 L117.1 503.9 L117.9 504.1 L118.6 503.3 L119.3 502.7 L120.0 503.3 L120.7 502.7 L121.4 504.7 L122.1 502.9 L122.9 501.8 L123.6 500.4 L124.3 498.9 L125.0 501.3 L125.7 498.0 L126.4 499.0 L127.1 500.0 L127.9 501.1 L128.6 499.3 L129.3 500.1 L130.0 498.5 L130.7 498.4 L131.4 499.0 L132.1 498.0 L132.9 497.7 L133.6 497.2 L134.3 497.2 L135.0 494.9 L135.7 496.4 L136.5 496.5 L137.2 496.6 L137.9 496.9 L138.6 497.1 L139.4 497.4 L140.1 498.9 L140.8 498.1 L141.6 497.9 L142.3 496.4 L143.0 494.5 L143.8 493.7 L144.5 494.2 L145.2 493.2 L145.9 491.1 L146.7 490.4 L147.4 490.5 L148.1 488.6 L148.8 490.2 L149.5 488.4 L150.2 486.6 L151.0 487.6 L151.7 487.5 L152.4 488.1 L153.1 487.5 L153.8 488.1 L154.5 487.1 L155.2 485.7 L156.0 484.3 L156.7 485.5 L157.4 483.7 L158.2 484.7 L159.0 483.8 L159.7 483.5 L160.5 484.4 L161.3 484.8 L162.1 483.2 L162.8 483.2 L163.6 481.6 L164.4 480.5 L165.1 481.0 L165.9 481.9 L166.7 482.7 L167.3 483.0 L168.0 481.5 L168.7 482.4 L169.3 483.5 L170.0 485.6 L170.7 485.8 L171.3 485.6 L172.0 486.2 L172.7 487.8 L173.3 486.7 L174.2 487.8 L175.0 485.7 L175.8 485.9 L176.7 486.1 L177.3 486.4 L178.0 485.5 L178.7 487.6 L179.3 488.8 L180.0 488.5 L180.7 489.9 L181.3 490.0 L182.0 490.9 L182.7 491.7 L183.3 491.6 L184.2 489.7 L185.0 486.8 L185.8 485.5 L186.7 483.4 L187.3 482.6 L188.0 483.1 L188.7 482.4 L189.3 481.9 L190.0 482.0 L190.7 479.3 L191.3 478.1 L192.0 478.4 L192.7 478.3 L193.3 477.0 L194.1 474.1 L194.8 475.0 L195.6 474.7 L196.3 474.0 L197.0 473.2 L197.8 472.5 L198.5 472.1 L199.3 470.9 L200.0 471.7 L200.7 469.8 L201.4 470.2 L202.1 468.1 L202.9 469.4 L203.6 470.1 L204.3 471.1 L205.0 471.3 L205.7 471.0 L206.4 470.4 L207.1 470.9 L207.9 472.6 L208.6 471.8 L209.3 472.1 L210.0 470.2 L210.7 473.2 L211.4 474.3 L212.1 474.6 L212.9 474.8 L213.6 475.5 L214.3 476.9 L215.0 478.6 L215.8 479.7 L216.5 478.1 L217.3 479.1 L218.0 478.1 L218.8 475.6 L219.5 475.8 L220.3 477.6 L221.1 477.7 L221.8 475.6 L222.6 476.8 L223.3 475.5 L224.0 475.7 L224.7 476.0 L225.4 474.6 L226.1 473.1 L226.8 473.2 L227.5 471.8 L228.2 472.2 L228.9 471.0 L229.6 470.8 L230.3 469.2 L231.0 468.6 L231.7 468.6 L232.4 469.2 L233.1 468.7 L233.9 468.1 L234.6 469.4 L235.4 470.0 L236.1 468.7 L236.9 467.9 L237.6 468.9 L238.3 468.7 L239.1 469.9 L239.8 471.7 L240.6 470.6 L241.3 471.0 L242.0 471.4 L242.8 472.1 L243.5 472.7 L244.3 474.0 L245.0 474.7 L245.7 472.9 L246.4 473.4 L247.1 471.2 L247.8 471.5 L248.5 470.3 L249.2 470.3 L249.9 469.3 L250.6 469.6 L251.2 469.3 L251.9 467.8 L252.6 468.7 L253.3 468.0 L254.0 467.0 L254.8 467.9 L255.5 467.2 L256.2 464.6 L256.9 464.0 L257.6 464.1 L258.3 464.6 L259.0 462.5 L259.8 462.4 L260.5 462.0 L261.2 462.1 L261.9 462.8 L262.6 460.6 L263.3 459.8 L264.0 459.9 L264.8 461.0 L265.5 460.2 L266.2 458.0 L266.9 458.9 L267.6 459.5 L268.3 458.2 L269.0 456.7 L269.8 456.4 L270.5 455.7 L271.2 455.3 L271.9 456.1 L272.6 454.6 L273.3 455.8 L274.1 453.9 L274.8 453.5 L275.6 452.1 L276.4 453.4 L277.1 453.3 L277.9 452.4 L278.6 452.9 L279.4 453.6 L280.2 453.9 L280.9 452.6 L281.7 450.5 L282.4 453.7 L283.1 453.4 L283.8 453.3 L284.4 449.7 L285.1 453.3 L285.8 451.7 L286.5 451.1 L287.2 451.1 L287.9 451.3 L288.6 450.2 L289.3 450.5 L290.0 449.9 L290.8 450.5 L291.5 448.8 L292.2 448.7 L293.0 448.7 L293.8 446.8 L294.5 447.5 L295.2 447.1 L296.0 447.7 L296.7 447.2 L297.4 446.2 L298.1 447.5 L298.8 445.3 L299.5 445.2 L300.2 444.5 L300.9 443.8 L301.6 444.7 L302.3 445.0 L303.0 445.3 L303.8 445.1 L304.5 445.0 L305.2 447.2 L306.0 445.0 L306.7 444.3 L307.5 443.1 L308.2 444.0 L309.0 442.7 L309.7 442.9 L310.5 444.0 L311.2 441.5 L312.0 442.9 L312.7 442.1 L313.4 441.3 L314.1 441.9 L314.8 443.6 L315.5 445.1 L316.2 444.8 L316.8 448.6 L317.5 448.1 L318.2 454.4 L318.9 458.4 L319.5 459.4 L320.2 455.7 L321.0 458.1 L321.8 457.1 L322.6 457.2 L323.3 466.4 L324.1 469.2 L324.8 481.1 L325.6 479.8 L326.4 478.6 L327.2 498.3 L327.8 489.1 L328.5 490.4 L329.0 493.8 L329.6 508.6 L330.5 508.2 L331.1 477.5 L331.7 489.8 L332.8 480.5 L333.5 475.4 L334.1 483.4 L334.8 479.2 L335.4 477.1 L336.1 476.2 L336.7 471.8 L337.5 467.0 L338.3 458.9 L339.1 457.4 L339.8 456.0 L340.6 452.5 L341.3 451.8 L342.0 452.1 L342.7 455.3 L343.4 454.4 L344.1 454.1 L344.7 457.1 L345.4 460.6 L346.1 456.2 L346.9 451.5 L347.6 448.5 L348.3 447.3 L349.1 444.7 L349.9 452.4 L350.7 450.8 L351.4 449.1 L352.2 450.1 L352.8 450.2 L353.5 447.2 L354.1 449.8 L354.8 450.3 L355.4 454.4 L356.1 450.8 L356.9 453.2 L357.6 448.9 L358.4 443.3 L359.2 446.0 L360.0 440.5 L360.7 438.0 L361.4 436.7 L362.2 435.6 L362.9 429.6 L363.7 428.8 L364.4 428.9 L365.2 423.6 L365.9 424.0 L366.7 422.5 L367.3 423.5 L367.9 423.2 L368.5 419.5 L369.2 422.8 L370.0 429.5 L370.8 433.1 L371.5 434.9 L372.1 430.6 L372.7 430.3 L373.3 430.7 L374.2 429.6 L375.0 434.0 L375.8 434.8 L376.7 435.9 L377.3 432.6 L378.0 433.0 L378.7 429.7 L379.3 428.7 L380.0 425.4 L380.7 425.4 L381.5 424.7 L382.2 422.3 L383.0 421.6 L383.7 420.7 L384.4 422.4 L385.2 420.9 L385.9 418.7 L386.7 418.0 L387.4 420.0 L388.1 416.4 L388.8 414.2 L389.5 412.2 L390.2 413.0 L391.0 416.3 L391.7 415.2 L392.4 416.4 L393.1 415.0 L393.8 412.2 L394.5 413.6 L395.2 413.2 L396.0 412.4 L396.7 410.2 L397.4 410.7 L398.1 407.7 L398.9 406.6 L399.6 406.8 L400.4 405.6 L401.1 405.3 L401.9 405.1 L402.6 405.5 L403.3 405.2 L404.0 401.9 L404.7 400.0 L405.4 399.3 L406.1 398.6 L406.7 395.1 L407.4 394.5 L408.1 395.1 L408.8 395.1 L409.5 394.0 L410.2 392.8 L410.8 391.5 L411.7 393.6 L412.5 399.4 L413.3 403.6 L414.0 405.3 L414.7 404.2 L415.3 405.6 L416.0 404.0 L416.7 405.7 L417.5 406.0 L418.3 409.9 L419.2 411.5 L420.0 412.6 L420.8 413.6 L421.5 413.3 L422.2 411.5 L422.9 411.9 L423.6 412.4 L424.3 410.9 L425.0 407.6 L425.7 407.4 L426.4 404.4 L427.1 402.4 L427.9 397.9 L428.6 397.2 L429.3 395.6 L430.0 391.5 L430.7 392.1 L431.3 393.3 L432.0 394.2 L432.7 397.3 L433.3 397.1 L434.2 395.4 L435.0 395.0 L435.8 393.7 L436.7 395.4 L437.3 399.2 L437.9 405.1 L438.5 409.4 L439.2 412.7 L439.8 409.4 L440.5 404.1 L441.2 402.1 L441.8 400.3 L442.5 394.6 L443.3 394.2 L444.2 391.5 L445.0 391.0 L445.8 389.6 L446.7 389.2 L447.4 390.6 L448.1 387.3 L448.8 389.2 L449.5 386.8 L450.2 385.1 L451.0 384.4 L451.7 383.2 L452.4 383.3 L453.1 384.1 L453.8 384.4 L454.5 383.6 L455.2 383.1 L456.0 383.5 L456.7 383.7 L457.3 383.2 L458.0 381.6 L458.7 381.7 L459.3 381.5 L460.0 381.5 L460.7 380.6 L461.3 379.2 L462.0 380.1 L462.7 376.7 L463.3 376.0 L464.1 376.5 L464.8 375.5 L465.6 374.0 L466.4 375.2 L467.1 372.6 L467.9 371.4 L468.6 371.4 L469.4 372.0 L470.2 367.9 L470.9 369.8 L471.7 370.5 L472.4 369.5 L473.2 368.7 L474.0 368.1 L474.7 367.6 L475.3 366.2 L476.0 363.5 L476.7 361.8 L477.3 362.7 L478.0 361.2 L478.7 363.8 L479.3 363.7 L480.0 363.9 L480.8 364.2 L481.6 366.7 L482.4 368.2 L483.2 370.1 L484.0 372.3 L484.7 371.5 L485.3 368.0 L486.0 365.9 L486.7 366.0 L487.3 364.5 L488.0 362.7 L488.7 361.0 L489.3 359.2 L490.0 356.4 L490.7 357.3 L491.4 357.0 L492.1 357.5 L492.9 360.1 L493.6 363.4 L494.3 362.5 L495.0 362.1 L495.8 364.3 L496.5 363.9 L497.2 362.5 L498.0 366.6 L498.8 368.6 L499.5 369.7 L500.2 372.1 L501.0 372.6 L501.8 370.7 L502.5 370.4 L503.2 367.9 L504.0 364.8 L504.8 364.1 L505.5 365.3 L506.2 359.7 L507.0 361.4 L507.8 358.2 L508.5 359.2 L509.2 358.4 L510.0 359.7 L510.8 359.5 L511.5 359.7 L512.2 356.8 L513.0 358.1 L513.7 353.5 L514.4 352.0 L515.1 353.6 L515.8 349.2 L516.5 348.2 L517.2 347.0 L517.9 346.9 L518.6 342.2 L519.3 341.2 L520.0 341.1 L520.7 341.4 L521.3 340.1 L522.0 341.2 L522.7 341.7 L523.3 339.3 L524.0 338.6 L524.7 340.6 L525.3 338.2 L526.0 338.3 L526.8 337.6 L527.5 336.9 L528.2 337.0 L529.0 333.5 L529.8 334.4 L530.5 334.3 L531.2 335.9 L532.0 332.9 L532.7 335.9 L533.4 339.7 L534.2 343.2 L534.9 345.5 L535.6 348.0 L536.3 344.3 L537.1 343.7 L537.8 341.3 L538.5 341.5 L539.3 340.2 L540.0 339.3 L540.7 338.6 L541.5 340.0 L542.2 340.5 L542.9 338.2 L543.6 339.4 L544.4 336.4 L545.1 335.5 L545.8 335.6 L546.5 334.5 L547.3 335.9 L548.0 336.1 L548.8 335.9 L549.5 337.3 L550.2 338.2 L551.0 335.0 L551.8 335.6 L552.5 337.3 L553.2 335.8 L554.0 334.7 L554.6 334.4 L555.2 333.8 L555.8 334.3 L556.4 335.3 L557.0 334.0 L557.7 334.0 L558.4 331.1 L559.1 327.9 L559.9 325.5 L560.6 324.1 L561.3 322.9 L562.0 321.3 L562.8 320.3 L563.6 319.4 L564.4 318.6 L565.2 319.0 L566.0 317.2 L566.8 319.4 L567.5 322.8 L568.2 322.0 L569.0 325.4 L569.8 325.8 L570.5 321.2 L571.2 319.7 L572.0 317.2 L572.7 318.3 L573.3 316.0 L574.0 316.0 L574.7 315.1 L575.3 315.1 L576.0 315.0 L576.7 315.8 L577.3 313.5 L578.0 316.0 L578.7 314.4 L579.3 314.2 L580.0 312.6 L580.8 313.4 L581.6 313.2 L582.4 314.2 L583.2 315.8 L584.0 315.4 L584.7 314.8 L585.5 313.8 L586.2 314.2 L586.9 314.7 L587.6 313.5 L588.4 312.2 L589.1 311.0 L589.8 309.1 L590.5 308.1 L591.3 308.5 L592.0 310.4 L592.7 310.2 L593.5 310.7 L594.2 311.7 L594.9 312.5 L595.6 314.2 L596.4 311.8 L597.1 313.7 L597.8 311.9 L598.5 313.4 L599.3 313.6 L600.0 315.3 L600.7 314.7 L601.4 318.0 L602.1 317.8 L602.8 318.8 L603.5 319.5 L604.2 322.9 L604.9 323.7 L605.6 323.5 L606.3 322.4 L607.0 321.6 L607.7 321.5 L608.4 321.4 L609.1 321.0 L609.9 319.2 L610.6 318.3 L611.3 316.9 L612.0 317.4 L612.7 316.8 L613.5 315.4 L614.2 314.4 L614.9 315.6 L615.6 314.5 L616.4 313.6 L617.1 311.2 L617.8 311.7 L618.5 310.9 L619.3 306.9 L620.0 307.9 L620.7 307.5 L621.3 308.3 L622.0 307.0 L622.7 305.1 L623.3 304.8 L624.0 304.1 L624.7 302.5 L625.5 306.2 L626.2 305.3 L626.9 306.5 L627.6 306.2 L628.4 305.8 L629.1 306.2 L629.8 303.9 L630.5 306.3 L631.3 306.6 L632.0 307.8 L632.8 307.5 L633.6 308.1 L634.4 309.1 L635.2 308.0 L636.0 310.5 L636.7 310.1 L637.3 307.3 L638.0 306.6 L638.7 305.2 L639.3 305.6 L640.0 306.0 L640.8 304.1 L641.5 304.8 L642.2 302.9 L643.0 305.0 L643.8 304.4 L644.5 302.8 L645.2 300.5 L646.0 302.7 L646.8 301.7 L647.5 300.9 L648.2 300.6 L649.0 300.4 L649.7 300.1 L650.3 302.2 L651.0 303.2 L651.7 304.7 L652.3 303.9 L653.0 306.7 L653.7 306.4 L654.3 306.5 L655.0 306.3 L655.8 309.4 L656.6 310.0 L657.3 311.8 L658.1 313.3 L658.9 313.9 L659.7 315.0 L660.4 315.6 L661.2 318.0 L662.0 319.6 L662.7 324.0 L663.3 326.4 L664.0 327.2 L664.7 326.5 L665.4 327.0 L666.1 326.4 L666.9 323.9 L667.6 323.1 L668.3 320.2 L669.0 319.3 L669.7 319.3 L670.4 320.6 L671.1 321.6 L671.8 323.5 L672.5 325.3 L673.2 327.0 L673.9 327.7 L674.6 326.6 L675.3 329.1 L676.0 329.6 L676.8 333.1 L677.5 335.9 L678.2 340.1 L679.0 340.4 L679.8 337.5 L680.5 337.4 L681.2 336.4 L682.0 331.4 L682.7 336.8 L683.4 337.9 L684.1 339.2 L684.9 339.3 L685.6 344.9 L686.3 345.9 L687.0 348.0 L687.8 344.9 L688.5 340.7 L689.2 336.8 L690.0 333.7 L690.7 332.3 L691.4 327.7 L692.1 327.8 L692.9 322.8 L693.6 321.1 L694.3 319.8 L695.0 318.3 L695.7 318.7 L696.3 320.9 L697.0 323.3 L697.7 325.4 L698.3 327.1 L699.0 327.1 L699.7 328.7 L700.4 326.0 L701.1 329.0 L701.9 331.8 L702.6 333.8 L703.3 333.8 L704.0 337.1 L704.8 338.9 L705.5 339.6 L706.2 342.7 L707.0 341.7 L707.8 345.2 L708.5 346.3 L709.2 349.7 L710.0 350.1 L710.8 352.6 L711.5 353.9 L712.2 357.7 L713.0 358.8 L713.8 361.6 L714.5 363.1 L715.2 364.5 L716.0 368.9 L716.7 369.4 L717.3 371.1 L718.0 374.4 L718.7 375.4 L719.3 374.2 L720.0 375.3 L720.7 372.6 L721.4 370.0 L722.1 368.2 L722.9 366.5 L723.6 362.0 L724.3 357.6 L725.0 357.2 L725.8 359.0 L726.6 357.5 L727.4 356.1 L728.2 359.6 L729.0 358.4 L729.7 361.7 L730.3 364.6 L731.0 371.3 L731.7 378.3 L732.3 382.0 L733.0 385.1 L733.7 389.3 L734.4 396.1 L735.1 393.6 L735.8 390.8 L736.5 389.0 L737.2 389.2 L737.9 386.6 L738.6 383.6 L739.3 378.5 L740.0 378.2 L740.7 377.9 L741.4 377.7 L742.1 379.1 L742.9 377.2 L743.6 378.7 L744.3 378.3 L745.0 378.6 L745.8 376.5 L746.5 377.9 L747.2 377.2 L748.0 380.4 L748.8 377.6 L749.6 375.5 L750.4 372.4 L751.2 370.0 L752.0 367.6 L752.7 366.1 L753.4 363.6 L754.1 363.1 L754.9 359.2 L755.6 360.2 L756.3 358.5 L757.0 356.1 L757.7 354.4 L758.4 353.2 L759.1 350.8 L759.8 352.0 L760.5 350.7 L761.2 350.0 L761.9 346.2 L762.6 346.2 L763.3 346.7 L764.0 346.6 L764.7 348.1 L765.4 350.1 L766.1 350.6 L766.9 353.1 L767.6 353.6 L768.3 356.5 L769.0 358.8 L769.7 356.6 L770.4 359.6 L771.1 364.7 L771.9 365.9 L772.6 368.4 L773.3 369.0 L774.0 369.0 L774.7 367.3 L775.3 367.5 L776.0 366.5 L776.7 368.5 L777.3 366.6 L778.0 366.1 L778.8 367.2 L779.6 373.3 L780.4 377.1 L781.2 380.4 L782.0 385.2 L782.7 385.3 L783.4 386.9 L784.1 389.7 L784.9 390.7 L785.6 390.4 L786.3 391.7 L787.0 393.6 L787.7 392.1 L788.3 388.3 L789.0 387.8 L789.8 392.2 L790.6 394.8 L791.4 398.2 L792.2 401.6 L793.0 404.6 L793.7 403.3 L794.4 401.6 L795.1 398.8 L795.9 397.4 L796.6 395.2 L797.3 392.6 L798.0 395.1 L798.7 391.2 L799.3 390.2 L800.0 387.6 L800.8 387.8 L801.5 389.7 L802.2 389.0 L803.0 392.7 L803.7 390.5 L804.4 386.8 L805.1 384.4 L805.9 381.7 L806.6 378.4 L807.3 375.3 L808.0 374.7 L808.7 376.2 L809.3 374.5 L810.0 377.8 L810.7 376.9 L811.3 375.3 L812.0 374.0 L812.7 372.1 L813.3 374.2 L814.0 372.1 L814.8 369.9 L815.5 369.5 L816.2 369.5 L817.0 368.2 L817.8 370.3 L818.6 369.0 L819.4 370.3 L820.2 373.4 L821.0 371.4 L821.7 373.7 L822.4 374.3 L823.1 376.1 L823.9 375.4 L824.6 375.8 L825.3 378.4 L826.0 379.7 L826.7 379.6 L827.3 379.9 L828.0 381.1 L828.7 382.3 L829.3 383.0 L830.0 383.1 L830.7 382.8 L831.3 387.1 L832.0 386.1 L832.8 381.0 L833.7 380.7 L834.5 377.3 L835.3 375.6 L836.2 373.3 L837.0 374.2 L837.7 372.4 L838.4 372.0 L839.1 370.7 L839.9 370.4 L840.6 370.6 L841.3 368.9 L842.0 367.2 L842.7 366.7 L843.4 366.5 L844.1 364.5 L844.8 361.2 L845.5 360.2 L846.2 358.7 L846.9 356.2 L847.6 354.5 L848.3 353.6 L849.0 353.9 L849.7 353.9 L850.3 355.9 L851.0 354.8 L851.7 358.4 L852.3 358.4 L853.0 359.6 L853.8 358.8 L854.5 358.9 L855.2 360.7 L856.0 360.6 L856.8 363.0 L857.6 363.3 L858.4 366.0 L859.2 366.8 L860.0 368.4 L860.7 367.1 L861.3 366.1 L862.0 366.4 L862.7 367.0 L863.3 367.0 L864.0 370.7 L864.8 371.8 L865.5 374.3 L866.2 374.9 L867.0 377.1 L867.7 377.5 L868.4 375.7 L869.1 375.9 L869.9 374.6 L870.6 372.1 L871.3 372.0 L872.0 369.6 L872.8 369.2 L873.5 366.4 L874.2 364.5 L875.0 364.2 L875.8 363.8 L876.5 360.7 L877.2 360.2 L878.0 360.2 L878.7 356.8 L879.4 358.3 L880.1 357.4 L880.8 356.9 L881.5 357.3 L882.2 355.4 L882.9 355.8 L883.6 356.0 L884.3 356.5 L885.0 353.8 L885.7 357.1 L886.4 357.1 L887.1 359.0 L887.9 357.0 L888.6 355.4 L889.3 355.7 L890.0 354.6 L890.8 354.7 L891.5 357.5 L892.2 359.4 L893.0 359.2 L893.7 360.7 L894.4 360.4 L895.1 359.7 L895.8 358.2 L896.5 356.1 L897.2 355.9 L897.9 357.0 L898.6 354.8 L899.3 351.3 L900.0 353.1 L900.7 354.5 L901.3 356.9 L902.0 356.9 L902.7 355.5 L903.3 357.2 L904.0 359.8 L904.8 357.5 L905.7 354.5 L906.5 354.4 L907.3 351.8 L908.2 350.0 L909.0 346.7 L909.7 347.4 L910.4 344.9 L911.1 345.0 L911.9 344.1 L912.6 342.3 L913.3 339.0 L914.0 337.2 L914.7 339.4 L915.4 339.4 L916.1 339.7 L916.9 338.4 L917.6 338.4 L918.3 340.3 L919.0 338.3 L919.7 338.6 L920.4 338.3 L921.1 337.8 L921.9 338.8 L922.6 337.4 L923.3 338.0 L924.0 339.3 L924.7 335.4 L925.5 333.6 L926.2 334.4 L926.9 332.9 L927.6 333.1 L928.4 332.5 L929.1 330.8 L929.8 329.5 L930.5 327.3 L931.3 326.5 L932.0 327.1 L932.7 326.9 L933.4 327.4 L934.1 326.8 L934.9 324.2 L935.6 323.1 L936.3 323.9 L937.0 323.6 L937.7 324.1 L938.3 327.7 L939.0 328.5 L939.7 329.7 L940.3 329.5 L941.0 331.3 L941.8 331.8 L942.5 333.7 L943.2 332.1 L944.0 336.3 L944.8 337.2 L945.5 338.1 L946.2 338.0 L947.0 340.8 L947.7 338.9 L948.4 336.6 L949.1 337.5 L949.9 334.3 L950.6 333.9 L951.3 330.1 L952.0 330.4 L952.7 329.9 L953.5 330.7 L954.2 330.4 L954.9 332.0 L955.6 333.8 L956.4 332.0 L957.1 333.4 L957.8 332.9 L958.5 334.8 L959.3 335.7 L960.0 334.3 L960.7 335.8 L961.4 336.7 L962.1 340.0 L962.9 338.8 L963.6 341.7 L964.3 343.5 L965.0 344.6 L965.7 347.6 L966.3 348.1 L967.0 349.9 L967.7 353.5 L968.3 354.4 L969.0 355.5 L969.8 353.7 L970.6 351.8 L971.4 349.8 L972.2 344.7 L973.0 343.9 L973.7 343.4 L974.3 345.0 L975.0 347.9 L975.7 349.8 L976.3 351.8 L977.0 354.0 L977.8 356.3 L978.6 355.5 L979.4 360.2 L980.2 358.8 L981.0 361.5 L981.6 358.3 L982.2 355.9 L982.8 353.8 L983.4 347.5 L984.0 346.8 L984.8 343.4 L985.5 341.4 L986.2 341.9 L987.0 339.6 L987.8 338.9 L988.5 336.9 L989.2 333.2 L990.0 333.6 L990.8 331.4 L991.5 328.8 L992.2 329.4 L993.0 326.1 L993.8 326.1 L994.5 325.6 L995.2 325.8 L996.0 324.0 L996.7 324.7 L997.3 323.2 L998.0 322.4 L998.7 324.2 L999.3 323.0 L1000.0 324.1 L1000.7 321.4 L1001.4 317.2 L1002.1 314.5 L1002.9 315.9 L1003.6 312.4 L1004.3 309.1 L1005.0 306.0 L1005.7 305.1 L1006.5 305.3 L1007.2 305.9 L1007.9 305.3 L1008.6 303.9 L1009.4 303.6 L1010.1 302.1 L1010.8 301.9 L1011.5 304.1 L1012.2 305.4 L1012.9 308.8 L1013.6 309.9 L1014.3 311.8 L1015.0 311.9 L1015.7 310.5 L1016.5 309.8 L1017.2 307.6 L1017.9 305.9 L1018.6 308.1 L1019.4 305.0 L1020.1 305.3 L1020.8 303.8 L1021.6 302.5 L1022.3 301.9 L1023.0 299.8 L1023.8 300.0 L1024.5 297.9 L1025.2 294.8 L1025.9 295.8 L1026.7 295.0 L1027.4 293.2 L1028.1 290.8 L1028.9 290.9 L1029.6 289.3 L1030.4 287.9 L1031.1 288.1 L1031.9 289.6 L1032.6 289.4 L1033.3 289.2 L1034.1 284.9 L1034.8 286.2 L1035.6 285.1 L1036.3 285.9 L1037.0 284.4 L1037.8 282.6 L1038.5 281.8 L1039.3 281.9 L1040.0 283.1 L1040.7 284.5 L1041.3 283.6 L1042.0 279.1 L1042.7 277.3 L1043.3 277.9 L1044.0 277.3 L1044.7 277.3 L1045.3 275.8 L1046.0 274.8 L1046.7 275.7 L1047.4 274.5 L1048.1 272.9 L1048.9 272.7 L1049.6 268.9 L1050.4 270.7 L1051.1 269.6 L1051.9 268.6 L1052.6 267.0 L1053.3 267.6 L1054.0 268.4 L1054.7 265.7 L1055.4 269.8 L1056.1 268.7 L1056.8 268.7 L1057.5 270.7 L1058.2 271.6 L1058.9 270.0 L1059.6 273.1 L1060.4 275.3 L1061.1 275.2 L1061.8 275.1 L1062.5 278.4 L1063.2 279.0 L1063.9 280.6 L1064.6 279.7 L1065.4 281.1 L1066.1 282.4 L1066.8 287.2 L1067.5 289.3 L1068.2 288.2 L1069.0 285.8 L1069.7 286.0 L1070.4 286.5 L1071.1 287.1 L1071.9 283.6 L1072.6 283.5 L1073.3 283.2 L1074.1 282.5 L1074.8 280.1 L1075.6 279.6 L1076.3 277.6 L1077.0 274.0 L1077.8 272.3 L1078.5 270.3 L1079.3 267.4 L1080.0 266.7 L1080.7 265.6 L1081.3 264.6 L1082.0 265.7 L1082.7 263.9 L1083.3 265.8 L1084.2 268.8 L1085.0 269.0 L1085.8 269.7 L1086.7 269.8 L1087.5 271.7 L1088.1 269.8 L1088.8 268.8 L1089.4 266.8 L1090.1 264.0 L1090.7 263.3 L1091.4 260.9 L1092.0 260.8 L1092.7 260.1 L1093.3 258.5 L1094.2 258.0 L1095.0 256.4 L1095.8 254.4 L1096.7 252.5 L1097.5 251.7 L1098.2 251.7 L1099.0 252.5 L1099.7 250.7 L1100.4 252.1 L1101.1 252.3 L1101.9 251.6 L1102.6 250.7 L1103.3 250.3 L1104.0 249.2 L1104.8 248.2 L1105.5 246.6 L1106.2 245.3 L1106.9 244.7 L1107.6 242.3 L1108.3 241.0 L1109.0 238.5 L1109.7 240.9 L1110.3 240.2 L1111.0 235.9 L1111.7 234.9 L1112.3 239.0 L1113.0 244.4 L1113.7 247.1 L1114.3 251.0 L1115.0 255.9 L1115.8 253.4 L1116.7 250.6 L1117.5 251.9 L1118.3 248.1 L1119.2 246.0 L1119.8 250.4 L1120.4 253.7 L1121.0 258.3 L1121.7 264.7 L1122.5 261.6 L1123.3 257.3 L1124.2 253.4 L1125.0 250.0 L1125.7 245.6 L1126.3 242.5 L1127.0 239.4 L1127.7 240.0 L1128.3 234.9 L1129.0 235.1 L1129.8 234.5 L1130.5 233.5 L1131.2 232.7 L1131.9 232.2 L1132.6 232.8 L1133.3 233.2 L1134.0 234.4 L1134.7 238.1 L1135.3 239.0 L1136.0 242.4 L1136.7 245.6 L1137.5 241.8 L1138.3 241.1 L1139.2 237.1 L1140.0 234.3 L1140.8 230.4 L1141.5 230.0 L1142.1 225.1 L1142.7 222.7 L1143.3 224.6 L1144.0 224.8 L1144.7 224.2 L1145.3 225.3 L1146.0 225.0 L1146.7 226.8 L1147.5 226.7 L1148.3 227.8 L1149.2 228.8 L1149.9 229.1 L1150.6 228.9 L1151.2 230.5 L1151.9 229.8 L1152.6 232.7 L1153.3 231.2 L1154.2 231.4 L1155.0 230.3 L1155.8 229.5 L1156.7 229.7 L1157.4 231.1 L1158.1 229.9 L1158.8 229.3 L1159.4 230.4 L1160.1 230.5 L1160.8 230.6 L1161.5 233.8 L1162.2 233.3 L1162.9 233.2 L1163.6 234.9 L1164.3 236.9 L1165.0 234.6 L1165.7 232.3 L1166.4 233.2 L1167.1 230.2 L1167.8 229.1 L1168.5 226.2 L1169.2 223.7 L1170.0 225.4 L1170.8 229.0 L1171.7 229.8 L1172.4 229.0 L1173.1 226.7 L1173.8 228.7 L1174.5 225.4 L1175.2 225.5 L1176.0 226.4 L1176.7 225.6 L1177.4 225.8 L1178.1 223.9 L1178.9 224.1 L1179.6 221.0 L1180.3 219.8 L1181.0 218.3 L1181.8 217.3 L1182.5 215.3 L1183.2 216.1 L1183.9 218.5 L1184.6 217.0 L1185.3 216.6 L1186.0 219.0 L1186.7 223.4 L1187.3 224.6 L1187.9 227.1 L1188.5 229.0 L1189.2 232.3 L1189.9 232.2 L1190.6 231.5 L1191.3 228.1 L1192.0 228.1 L1192.7 226.9 L1193.5 226.0 L1194.2 225.8" stroke="#772590"/>
</g>
<g font-size="35.5" text-anchor="end">
<text x="93.3" y="52.9">1.5</text>
<text x="93.3" y="210.9">1</text>
<text x="93.3" y="369.7">0.5</text>
<text x="93.3" y="528.9">0</text>
</g>
<g font-size="35.5" text-anchor="middle" letter-spacing="0.7">
<text x="108.8" y="565.7">2019</text>
<text x="289.6" y="565.7">2020</text>
<text x="470.8" y="565.7">2021</text>
<text x="651.6" y="565.7">2022</text>
<text x="832.8" y="565.7">2023</text>
<text x="1014.0" y="565.7">2024</text>
</g>
<text x="652" y="613.4" font-size="39.5" letter-spacing="0.6" text-anchor="middle">Date</text>
<text transform="translate(30.4 277.8) rotate(-90)" font-size="39.5" letter-spacing="0.3" text-anchor="middle">Cumulative returns</text>
<text x="652" y="31.0" font-size="42.5" text-anchor="middle">(a)</text>
<rect x="136.2" y="66.4" width="302.0" height="167.5" fill="#fff" stroke="#111" stroke-width="4"/>
<path d="M146.3 90.9 H246.2" stroke="#3A7DC9" stroke-width="4.7" fill="none"/>
<text x="253" y="101.5" font-size="32.2" letter-spacing="0.4">Benchmark</text>
<path d="M146.3 130.9 H246.2" stroke="#DB4A1C" stroke-width="4.7" fill="none"/>
<text x="253" y="141.5" font-size="32.2" letter-spacing="0.4">Aggressive</text>
<path d="M146.3 170.7 H246.2" stroke="#E3AD2F" stroke-width="4.7" fill="none"/>
<text x="253" y="181.3" font-size="32.2" letter-spacing="0.4">Intermediate</text>
<path d="M146.3 210.6 H246.2" stroke="#772590" stroke-width="4.7" fill="none"/>
<text x="253" y="221.2" font-size="32.2" letter-spacing="0.4">Conservative</text>
<g stroke="#111" stroke-width="4.00" fill="none">
<rect x="109.30" y="704.60" width="1085.30" height="476.00"/>
<path d="M109.30 763.20 h12.5 M1194.60 763.20 h-12.5"/>
<path d="M109.30 882.63 h12.5 M1194.60 882.63 h-12.5"/>
<path d="M109.30 1002.07 h12.5 M1194.60 1002.07 h-12.5"/>
<path d="M109.30 1121.50 h12.5 M1194.60 1121.50 h-12.5"/>
<path d="M289.60 1180.60 v-12.5 M289.60 704.60 v12.5"/>
<path d="M470.80 1180.60 v-12.5 M470.80 704.60 v12.5"/>
<path d="M651.60 1180.60 v-12.5 M651.60 704.60 v12.5"/>
<path d="M832.80 1180.60 v-12.5 M832.80 704.60 v12.5"/>
<path d="M1014.00 1180.60 v-12.5 M1014.00 704.60 v12.5"/>
</g>
<path d="M109.3 942.4 H125.3 V763.2 H281.4 V1121.5 H327.6 V763.2 H581.3 V1121.5 H677.5 V763.2 H1146.0 V1121.5 H1194.6" stroke="#DB4A1C" stroke-width="4.8" fill="none" stroke-linejoin="miter"/>
<path d="M109.2 942.4 H1194.6" stroke="#0072BD" stroke-opacity="0.69" stroke-width="4.6" stroke-dasharray="19 19.4" fill="none"/>
<rect x="313.6" y="706.2" width="16.6" height="472.8" fill="#000" fill-opacity="0.25"/>
<rect x="652.4" y="706.2" width="140.0" height="472.8" fill="#000" fill-opacity="0.25"/>
<g font-size="35.5" text-anchor="end">
<text x="93.3" y="776.1">0.8</text>
<text x="93.3" y="895.5">0.6</text>
<text x="93.3" y="1015.0">0.4</text>
<text x="93.3" y="1134.4">0.2</text>
</g>
<g font-size="35.5" text-anchor="middle" letter-spacing="0.7">
<text x="289.6" y="1229">2020</text>
<text x="470.8" y="1229">2021</text>
<text x="651.6" y="1229">2022</text>
<text x="832.8" y="1229">2023</text>
<text x="1014.0" y="1229">2024</text>
</g>
<text x="652" y="1275.8" font-size="39.5" letter-spacing="0.6" text-anchor="middle">Date</text>
<text transform="translate(30.4 942) rotate(-90)" font-size="39.5" letter-spacing="0.3" text-anchor="middle">Stock weight</text>
<text x="652" y="695.5" font-size="42.5" text-anchor="middle">(b)</text>
<rect x="832.0" y="1069.4" width="279.4" height="84.6" fill="#fff" stroke="#111" stroke-width="4"/>
<path d="M842.3 1092.4 H942" stroke="#4F9AD1" stroke-width="4.6" stroke-dasharray="19 19.4" fill="none"/>
<text x="949" y="1103.7" font-size="32.2" letter-spacing="0.4">Benchmark</text>
<path d="M842.3 1131.2 H942" stroke="#DB4A1C" stroke-width="4.8" fill="none"/>
<text x="949" y="1143.2" font-size="32.2" letter-spacing="0.4">Aggressive</text>
</g></svg>
</body></html>
